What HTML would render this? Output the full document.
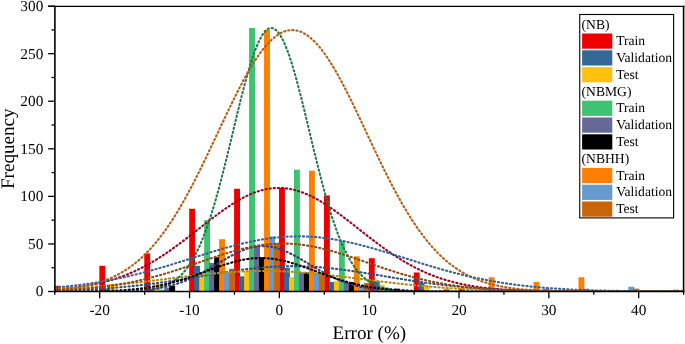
<!DOCTYPE html>
<html><head><meta charset="utf-8"><style>
html,body{margin:0;padding:0;background:#fff;}
svg{display:block;}
.t{font-family:"Liberation Serif",serif;font-size:15.3px;fill:#000;}
.at{font-family:"Liberation Serif",serif;font-size:19.1px;fill:#000;}
.lt{font-family:"Liberation Serif",serif;font-size:13.6px;fill:#000;}
text{text-rendering:geometricPrecision;}
svg{will-change:transform;}
</style></head><body>
<svg width="685" height="344" viewBox="0 0 685 344">
<defs><clipPath id="pc"><rect x="54.9" y="6.4" width="628.7" height="284.3"/></clipPath></defs>
<rect width="685" height="344" fill="#fff"/>
<rect x="54.80" y="285.79" width="5.55" height="5.71" fill="#EE0000"/>
<rect x="99.36" y="265.81" width="5.90" height="25.69" fill="#EE0000"/>
<rect x="144.28" y="253.45" width="5.90" height="38.05" fill="#EE0000"/>
<rect x="189.19" y="208.74" width="5.90" height="82.76" fill="#EE0000"/>
<rect x="234.11" y="188.76" width="5.90" height="102.74" fill="#EE0000"/>
<rect x="279.02" y="187.81" width="5.90" height="103.69" fill="#EE0000"/>
<rect x="323.94" y="195.42" width="5.90" height="96.08" fill="#EE0000"/>
<rect x="368.85" y="258.20" width="5.90" height="33.30" fill="#EE0000"/>
<rect x="413.77" y="272.47" width="5.90" height="19.03" fill="#EE0000"/>
<rect x="458.68" y="288.65" width="5.90" height="2.85" fill="#EE0000"/>
<rect x="104.35" y="288.65" width="5.90" height="2.85" fill="#346897"/>
<rect x="149.27" y="288.65" width="5.90" height="2.85" fill="#346897"/>
<rect x="194.18" y="265.81" width="5.90" height="25.69" fill="#346897"/>
<rect x="239.10" y="276.28" width="5.90" height="15.22" fill="#346897"/>
<rect x="284.01" y="267.72" width="5.90" height="23.78" fill="#346897"/>
<rect x="328.93" y="281.99" width="5.90" height="9.51" fill="#346897"/>
<rect x="373.84" y="281.04" width="5.90" height="10.46" fill="#346897"/>
<rect x="418.76" y="282.94" width="5.90" height="8.56" fill="#346897"/>
<rect x="64.43" y="286.74" width="5.90" height="4.76" fill="#FFC010"/>
<rect x="109.34" y="283.89" width="5.90" height="7.61" fill="#FFC010"/>
<rect x="154.26" y="283.89" width="5.90" height="7.61" fill="#FFC010"/>
<rect x="199.17" y="273.43" width="5.90" height="18.07" fill="#FFC010"/>
<rect x="244.09" y="271.52" width="5.90" height="19.98" fill="#FFC010"/>
<rect x="289.00" y="277.23" width="5.90" height="14.27" fill="#FFC010"/>
<rect x="333.92" y="281.04" width="5.90" height="10.46" fill="#FFC010"/>
<rect x="378.83" y="284.84" width="5.90" height="6.66" fill="#FFC010"/>
<rect x="423.75" y="285.79" width="5.90" height="5.71" fill="#FFC010"/>
<rect x="159.25" y="289.60" width="5.90" height="1.90" fill="#3EC373"/>
<rect x="204.16" y="220.15" width="5.90" height="71.35" fill="#3EC373"/>
<rect x="249.08" y="27.99" width="5.90" height="263.51" fill="#3EC373"/>
<rect x="293.99" y="169.73" width="5.90" height="121.77" fill="#3EC373"/>
<rect x="338.91" y="241.08" width="5.90" height="50.42" fill="#3EC373"/>
<rect x="383.82" y="287.69" width="5.90" height="3.81" fill="#3EC373"/>
<rect x="164.24" y="287.69" width="5.90" height="3.81" fill="#666897"/>
<rect x="209.15" y="262.96" width="5.90" height="28.54" fill="#666897"/>
<rect x="254.07" y="245.84" width="5.90" height="45.66" fill="#666897"/>
<rect x="298.98" y="272.47" width="5.90" height="19.03" fill="#666897"/>
<rect x="343.90" y="282.94" width="5.90" height="8.56" fill="#666897"/>
<rect x="388.81" y="290.55" width="5.90" height="0.95" fill="#666897"/>
<rect x="169.23" y="285.79" width="5.90" height="5.71" fill="#000000"/>
<rect x="214.14" y="257.25" width="5.90" height="34.25" fill="#000000"/>
<rect x="259.06" y="257.25" width="5.90" height="34.25" fill="#000000"/>
<rect x="303.97" y="272.47" width="5.90" height="19.03" fill="#000000"/>
<rect x="348.89" y="281.99" width="5.90" height="9.51" fill="#000000"/>
<rect x="393.80" y="288.65" width="5.90" height="2.85" fill="#000000"/>
<rect x="219.13" y="239.18" width="5.90" height="52.32" fill="#FF7F00"/>
<rect x="264.05" y="29.89" width="5.90" height="261.61" fill="#FF7F00"/>
<rect x="308.96" y="170.68" width="5.90" height="120.82" fill="#FF7F00"/>
<rect x="353.88" y="256.30" width="5.90" height="35.20" fill="#FF7F00"/>
<rect x="443.71" y="288.65" width="5.90" height="2.85" fill="#FF7F00"/>
<rect x="488.62" y="277.23" width="5.90" height="14.27" fill="#FF7F00"/>
<rect x="533.54" y="281.99" width="5.90" height="9.51" fill="#FF7F00"/>
<rect x="578.45" y="277.23" width="5.90" height="14.27" fill="#FF7F00"/>
<rect x="224.12" y="272.47" width="5.90" height="19.03" fill="#6699CC"/>
<rect x="269.04" y="236.32" width="5.90" height="55.18" fill="#6699CC"/>
<rect x="313.95" y="273.43" width="5.90" height="18.07" fill="#6699CC"/>
<rect x="358.87" y="285.79" width="5.90" height="5.71" fill="#6699CC"/>
<rect x="583.44" y="288.65" width="5.90" height="2.85" fill="#6699CC"/>
<rect x="628.36" y="286.74" width="5.90" height="4.76" fill="#6699CC"/>
<rect x="673.27" y="289.60" width="5.90" height="1.90" fill="#6699CC"/>
<rect x="229.11" y="268.67" width="5.90" height="22.83" fill="#C8640A"/>
<rect x="274.03" y="242.98" width="5.90" height="48.52" fill="#C8640A"/>
<rect x="318.94" y="273.43" width="5.90" height="18.07" fill="#C8640A"/>
<rect x="363.86" y="282.94" width="5.90" height="8.56" fill="#C8640A"/>
<rect x="543.52" y="288.65" width="5.90" height="2.85" fill="#C8640A"/>
<rect x="633.35" y="288.65" width="5.90" height="2.85" fill="#C8640A"/>
<polyline clip-path="url(#pc)" points="54.8,289.49 55.8,289.42 56.8,289.34 57.8,289.26 58.8,289.19 59.8,289.10 60.8,289.02 61.8,288.93 62.8,288.85 63.8,288.75 64.8,288.66 65.8,288.56 66.8,288.46 67.8,288.36 68.8,288.26 69.8,288.15 70.8,288.04 71.8,287.92 72.8,287.80 73.8,287.68 74.8,287.56 75.8,287.43 76.8,287.30 77.8,287.16 78.8,287.02 79.8,286.88 80.8,286.73 81.8,286.58 82.8,286.43 83.8,286.27 84.8,286.11 85.8,285.94 86.8,285.77 87.8,285.60 88.8,285.42 89.8,285.23 90.8,285.04 91.8,284.85 92.8,284.65 93.8,284.45 94.8,284.24 95.8,284.03 96.8,283.81 97.8,283.59 98.8,283.36 99.8,283.13 100.8,282.89 101.8,282.65 102.8,282.40 103.8,282.15 104.8,281.89 105.8,281.62 106.8,281.35 107.8,281.07 108.8,280.79 109.8,280.50 110.8,280.20 111.8,279.90 112.8,279.59 113.8,279.28 114.8,278.96 115.8,278.63 116.8,278.30 117.8,277.96 118.8,277.62 119.8,277.26 120.8,276.90 121.8,276.54 122.8,276.17 123.8,275.79 124.8,275.40 125.8,275.01 126.8,274.61 127.8,274.20 128.8,273.79 129.8,273.37 130.8,272.94 131.8,272.50 132.8,272.06 133.8,271.61 134.8,271.15 135.8,270.69 136.8,270.22 137.8,269.74 138.8,269.26 139.8,268.76 140.8,268.26 141.8,267.75 142.8,267.24 143.8,266.72 144.8,266.19 145.8,265.65 146.8,265.11 147.8,264.56 148.8,264.00 149.8,263.43 150.8,262.86 151.8,262.28 152.8,261.70 153.8,261.10 154.8,260.50 155.8,259.90 156.8,259.28 157.8,258.66 158.8,258.03 159.8,257.40 160.8,256.76 161.8,256.11 162.8,255.46 163.8,254.80 164.8,254.13 165.8,253.46 166.8,252.78 167.8,252.10 168.8,251.41 169.8,250.71 170.8,250.01 171.8,249.30 172.8,248.59 173.8,247.88 174.8,247.15 175.8,246.43 176.8,245.70 177.8,244.96 178.8,244.22 179.8,243.47 180.8,242.73 181.8,241.97 182.8,241.22 183.8,240.46 184.8,239.69 185.8,238.93 186.8,238.16 187.8,237.39 188.8,236.61 189.8,235.84 190.8,235.06 191.8,234.28 192.8,233.49 193.8,232.71 194.8,231.92 195.8,231.14 196.8,230.35 197.8,229.56 198.8,228.78 199.8,227.99 200.8,227.20 201.8,226.41 202.8,225.63 203.8,224.84 204.8,224.06 205.8,223.28 206.8,222.50 207.8,221.72 208.8,220.94 209.8,220.17 210.8,219.40 211.8,218.63 212.8,217.86 213.8,217.10 214.8,216.35 215.8,215.59 216.8,214.85 217.8,214.10 218.8,213.36 219.8,212.63 220.8,211.90 221.8,211.18 222.8,210.47 223.8,209.76 224.8,209.06 225.8,208.36 226.8,207.68 227.8,207.00 228.8,206.32 229.8,205.66 230.8,205.01 231.8,204.36 232.8,203.72 233.8,203.09 234.8,202.48 235.8,201.87 236.8,201.27 237.8,200.68 238.8,200.10 239.8,199.53 240.8,198.98 241.8,198.43 242.8,197.90 243.8,197.38 244.8,196.87 245.8,196.37 246.8,195.88 247.8,195.41 248.8,194.95 249.8,194.51 250.8,194.07 251.8,193.65 252.8,193.25 253.8,192.85 254.8,192.48 255.8,192.11 256.8,191.76 257.8,191.43 258.8,191.11 259.8,190.80 260.8,190.51 261.8,190.23 262.8,189.97 263.8,189.73 264.8,189.50 265.8,189.28 266.8,189.08 267.8,188.90 268.8,188.73 269.8,188.58 270.8,188.45 271.8,188.33 272.8,188.23 273.8,188.14 274.8,188.07 275.8,188.01 276.8,187.98 277.8,187.95 278.8,187.95 279.8,187.96 280.8,187.99 281.8,188.03 282.8,188.09 283.8,188.17 284.8,188.26 285.8,188.37 286.8,188.49 287.8,188.63 288.8,188.79 289.8,188.96 290.8,189.15 291.8,189.35 292.8,189.57 293.8,189.80 294.8,190.05 295.8,190.32 296.8,190.60 297.8,190.90 298.8,191.21 299.8,191.53 300.8,191.87 301.8,192.23 302.8,192.60 303.8,192.98 304.8,193.38 305.8,193.79 306.8,194.21 307.8,194.65 308.8,195.10 309.8,195.56 310.8,196.04 311.8,196.53 312.8,197.03 313.8,197.54 314.8,198.07 315.8,198.61 316.8,199.16 317.8,199.72 318.8,200.29 319.8,200.87 320.8,201.46 321.8,202.06 322.8,202.67 323.8,203.30 324.8,203.93 325.8,204.57 326.8,205.22 327.8,205.87 328.8,206.54 329.8,207.22 330.8,207.90 331.8,208.59 332.8,209.28 333.8,209.99 334.8,210.70 335.8,211.42 336.8,212.14 337.8,212.87 338.8,213.60 339.8,214.34 340.8,215.09 341.8,215.84 342.8,216.59 343.8,217.35 344.8,218.11 345.8,218.88 346.8,219.64 347.8,220.42 348.8,221.19 349.8,221.97 350.8,222.75 351.8,223.53 352.8,224.31 353.8,225.10 354.8,225.88 355.8,226.67 356.8,227.46 357.8,228.24 358.8,229.03 359.8,229.82 360.8,230.61 361.8,231.39 362.8,232.18 363.8,232.96 364.8,233.75 365.8,234.53 366.8,235.31 367.8,236.09 368.8,236.86 369.8,237.64 370.8,238.41 371.8,239.18 372.8,239.94 373.8,240.70 374.8,241.46 375.8,242.22 376.8,242.97 377.8,243.72 378.8,244.46 379.8,245.20 380.8,245.93 381.8,246.66 382.8,247.39 383.8,248.11 384.8,248.82 385.8,249.53 386.8,250.24 387.8,250.94 388.8,251.63 389.8,252.32 390.8,253.00 391.8,253.68 392.8,254.35 393.8,255.01 394.8,255.67 395.8,256.32 396.8,256.97 397.8,257.60 398.8,258.24 399.8,258.86 400.8,259.48 401.8,260.09 402.8,260.70 403.8,261.30 404.8,261.89 405.8,262.47 406.8,263.05 407.8,263.62 408.8,264.18 409.8,264.74 410.8,265.29 411.8,265.83 412.8,266.36 413.8,266.89 414.8,267.41 415.8,267.92 416.8,268.42 417.8,268.92 418.8,269.41 419.8,269.90 420.8,270.37 421.8,270.84 422.8,271.30 423.8,271.76 424.8,272.20 425.8,272.64 426.8,273.08 427.8,273.50 428.8,273.92 429.8,274.33 430.8,274.74 431.8,275.14 432.8,275.53 433.8,275.91 434.8,276.29 435.8,276.66 436.8,277.02 437.8,277.38 438.8,277.73 439.8,278.07 440.8,278.41 441.8,278.74 442.8,279.06 443.8,279.38 444.8,279.69 445.8,280.00 446.8,280.30 447.8,280.59 448.8,280.88 449.8,281.16 450.8,281.44 451.8,281.71 452.8,281.97 453.8,282.23 454.8,282.48 455.8,282.73 456.8,282.97 457.8,283.21 458.8,283.44 459.8,283.66 460.8,283.88 461.8,284.10 462.8,284.31 463.8,284.52 464.8,284.72 465.8,284.91 466.8,285.11 467.8,285.29 468.8,285.47 469.8,285.65 470.8,285.83 471.8,286.00 472.8,286.16 473.8,286.32 474.8,286.48 475.8,286.63 476.8,286.78 477.8,286.93 478.8,287.07 479.8,287.20 480.8,287.34 481.8,287.47 482.8,287.60 483.8,287.72 484.8,287.84 485.8,287.96 486.8,288.07 487.8,288.18 488.8,288.29 489.8,288.39 490.8,288.50 491.8,288.60 492.8,288.69 493.8,288.78 494.8,288.87 495.8,288.96 496.8,289.05 497.8,289.13 498.8,289.21 499.8,289.29 500.8,289.37 501.8,289.44 502.8,289.51 503.8,289.58 504.8,289.65 505.8,289.71 506.8,289.77 507.8,289.84 508.8,289.89 509.8,289.95 510.8,290.01 511.8,290.06 512.8,290.11 513.8,290.16 514.8,290.21 515.8,290.26 516.8,290.30 517.8,290.35 518.8,290.39 519.8,290.43 520.8,290.47 521.8,290.51 522.8,290.55 523.8,290.58 524.8,290.62 525.8,290.65 526.8,290.68 527.8,290.72 528.8,290.75 529.8,290.77 530.8,290.80 531.8,290.83 532.8,290.86 533.8,290.88 534.8,290.91 535.8,290.93 536.8,290.95 537.8,290.97 538.8,291.00 539.8,291.02 540.8,291.03 541.8,291.05 542.8,291.07 543.8,291.09 544.8,291.11 545.8,291.12 546.8,291.14 547.8,291.15 548.8,291.17 549.8,291.18 550.8,291.19 551.8,291.21 552.8,291.22 553.8,291.23 554.8,291.24 555.8,291.25 556.8,291.26 557.8,291.27 558.8,291.28 559.8,291.29 560.8,291.30 561.8,291.31 562.8,291.32 563.8,291.33 564.8,291.33 565.8,291.34 566.8,291.35 567.8,291.36 568.8,291.36 569.8,291.37 570.8,291.37 571.8,291.38 572.8,291.39 573.8,291.39 574.8,291.40 575.8,291.40 576.8,291.40 577.8,291.41 578.8,291.41 579.8,291.42 580.8,291.42 581.8,291.42 582.8,291.43 583.8,291.43 584.8,291.43 585.8,291.44 586.8,291.44 587.8,291.44 588.8,291.45 589.8,291.45 590.8,291.45 591.8,291.45 592.8,291.46 593.8,291.46 594.8,291.46 595.8,291.46 596.8,291.46 597.8,291.47 598.8,291.47 599.8,291.47 600.8,291.47 601.8,291.47 602.8,291.47 603.8,291.47 604.8,291.48 605.8,291.48 606.8,291.48 607.8,291.48 608.8,291.48 609.8,291.48 610.8,291.48 611.8,291.48 612.8,291.48 613.8,291.48 614.8,291.49 615.8,291.49 616.8,291.49 617.8,291.49 618.8,291.49 619.8,291.49 620.8,291.49 621.8,291.49 622.8,291.49 623.8,291.49 624.8,291.49 625.8,291.49 626.8,291.49 627.8,291.49 628.8,291.49 629.8,291.49 630.8,291.49 631.8,291.49 632.8,291.49 633.8,291.49 634.8,291.50 635.8,291.50 636.8,291.50 637.8,291.50 638.8,291.50 639.8,291.50 640.8,291.50 641.8,291.50 642.8,291.50 643.8,291.50 644.8,291.50 645.8,291.50 646.8,291.50 647.8,291.50 648.8,291.50 649.8,291.50 650.8,291.50 651.8,291.50 652.8,291.50 653.8,291.50 654.8,291.50 655.8,291.50 656.8,291.50 657.8,291.50 658.8,291.50 659.8,291.50 660.8,291.50 661.8,291.50 662.8,291.50 663.8,291.50 664.8,291.50 665.8,291.50 666.8,291.50 667.8,291.50 668.8,291.50 669.8,291.50 670.8,291.50 671.8,291.50 672.8,291.50 673.8,291.50 674.8,291.50 675.8,291.50 676.8,291.50 677.8,291.50 678.8,291.50 679.8,291.50 680.8,291.50 681.8,291.50 682.8,291.50" fill="none" stroke="#A3001E" stroke-width="2.1" stroke-linecap="round" stroke-dasharray="1.2 2.9"/>
<polyline clip-path="url(#pc)" points="54.8,290.65 55.8,290.62 56.8,290.60 57.8,290.57 58.8,290.54 59.8,290.52 60.8,290.49 61.8,290.46 62.8,290.43 63.8,290.40 64.8,290.37 65.8,290.34 66.8,290.31 67.8,290.28 68.8,290.24 69.8,290.21 70.8,290.17 71.8,290.14 72.8,290.10 73.8,290.06 74.8,290.03 75.8,289.99 76.8,289.95 77.8,289.91 78.8,289.86 79.8,289.82 80.8,289.78 81.8,289.73 82.8,289.69 83.8,289.64 84.8,289.60 85.8,289.55 86.8,289.50 87.8,289.45 88.8,289.40 89.8,289.35 90.8,289.29 91.8,289.24 92.8,289.19 93.8,289.13 94.8,289.07 95.8,289.02 96.8,288.96 97.8,288.90 98.8,288.83 99.8,288.77 100.8,288.71 101.8,288.64 102.8,288.58 103.8,288.51 104.8,288.44 105.8,288.37 106.8,288.30 107.8,288.23 108.8,288.16 109.8,288.08 110.8,288.01 111.8,287.93 112.8,287.85 113.8,287.77 114.8,287.69 115.8,287.61 116.8,287.53 117.8,287.44 118.8,287.36 119.8,287.27 120.8,287.18 121.8,287.09 122.8,287.00 123.8,286.91 124.8,286.82 125.8,286.72 126.8,286.63 127.8,286.53 128.8,286.43 129.8,286.33 130.8,286.23 131.8,286.12 132.8,286.02 133.8,285.92 134.8,285.81 135.8,285.70 136.8,285.59 137.8,285.48 138.8,285.37 139.8,285.25 140.8,285.14 141.8,285.02 142.8,284.90 143.8,284.78 144.8,284.66 145.8,284.54 146.8,284.42 147.8,284.29 148.8,284.17 149.8,284.04 150.8,283.91 151.8,283.78 152.8,283.65 153.8,283.52 154.8,283.39 155.8,283.25 156.8,283.12 157.8,282.98 158.8,282.84 159.8,282.70 160.8,282.56 161.8,282.42 162.8,282.28 163.8,282.13 164.8,281.99 165.8,281.84 166.8,281.69 167.8,281.55 168.8,281.40 169.8,281.25 170.8,281.09 171.8,280.94 172.8,280.79 173.8,280.63 174.8,280.48 175.8,280.32 176.8,280.17 177.8,280.01 178.8,279.85 179.8,279.69 180.8,279.53 181.8,279.37 182.8,279.21 183.8,279.04 184.8,278.88 185.8,278.72 186.8,278.55 187.8,278.39 188.8,278.23 189.8,278.06 190.8,277.89 191.8,277.73 192.8,277.56 193.8,277.39 194.8,277.23 195.8,277.06 196.8,276.89 197.8,276.72 198.8,276.56 199.8,276.39 200.8,276.22 201.8,276.05 202.8,275.88 203.8,275.71 204.8,275.55 205.8,275.38 206.8,275.21 207.8,275.04 208.8,274.88 209.8,274.71 210.8,274.54 211.8,274.38 212.8,274.21 213.8,274.05 214.8,273.88 215.8,273.72 216.8,273.55 217.8,273.39 218.8,273.23 219.8,273.07 220.8,272.91 221.8,272.75 222.8,272.59 223.8,272.43 224.8,272.27 225.8,272.12 226.8,271.96 227.8,271.81 228.8,271.66 229.8,271.50 230.8,271.35 231.8,271.21 232.8,271.06 233.8,270.91 234.8,270.77 235.8,270.62 236.8,270.48 237.8,270.34 238.8,270.20 239.8,270.07 240.8,269.93 241.8,269.80 242.8,269.67 243.8,269.54 244.8,269.41 245.8,269.29 246.8,269.16 247.8,269.04 248.8,268.92 249.8,268.80 250.8,268.69 251.8,268.57 252.8,268.46 253.8,268.35 254.8,268.25 255.8,268.14 256.8,268.04 257.8,267.94 258.8,267.84 259.8,267.75 260.8,267.66 261.8,267.57 262.8,267.48 263.8,267.39 264.8,267.31 265.8,267.23 266.8,267.15 267.8,267.08 268.8,267.01 269.8,266.94 270.8,266.87 271.8,266.81 272.8,266.75 273.8,266.69 274.8,266.64 275.8,266.59 276.8,266.54 277.8,266.49 278.8,266.45 279.8,266.41 280.8,266.37 281.8,266.34 282.8,266.30 283.8,266.28 284.8,266.25 285.8,266.23 286.8,266.21 287.8,266.19 288.8,266.18 289.8,266.17 290.8,266.16 291.8,266.16 292.8,266.16 293.8,266.16 294.8,266.16 295.8,266.17 296.8,266.18 297.8,266.20 298.8,266.21 299.8,266.23 300.8,266.26 301.8,266.28 302.8,266.31 303.8,266.34 304.8,266.38 305.8,266.42 306.8,266.46 307.8,266.50 308.8,266.55 309.8,266.60 310.8,266.65 311.8,266.70 312.8,266.76 313.8,266.82 314.8,266.89 315.8,266.95 316.8,267.02 317.8,267.09 318.8,267.17 319.8,267.25 320.8,267.33 321.8,267.41 322.8,267.49 323.8,267.58 324.8,267.67 325.8,267.77 326.8,267.86 327.8,267.96 328.8,268.06 329.8,268.16 330.8,268.27 331.8,268.37 332.8,268.48 333.8,268.59 334.8,268.71 335.8,268.82 336.8,268.94 337.8,269.06 338.8,269.18 339.8,269.31 340.8,269.44 341.8,269.56 342.8,269.69 343.8,269.83 344.8,269.96 345.8,270.09 346.8,270.23 347.8,270.37 348.8,270.51 349.8,270.65 350.8,270.79 351.8,270.94 352.8,271.09 353.8,271.23 354.8,271.38 355.8,271.53 356.8,271.68 357.8,271.84 358.8,271.99 359.8,272.15 360.8,272.30 361.8,272.46 362.8,272.62 363.8,272.78 364.8,272.94 365.8,273.10 366.8,273.26 367.8,273.42 368.8,273.58 369.8,273.75 370.8,273.91 371.8,274.08 372.8,274.24 373.8,274.41 374.8,274.57 375.8,274.74 376.8,274.91 377.8,275.07 378.8,275.24 379.8,275.41 380.8,275.58 381.8,275.75 382.8,275.91 383.8,276.08 384.8,276.25 385.8,276.42 386.8,276.59 387.8,276.76 388.8,276.92 389.8,277.09 390.8,277.26 391.8,277.43 392.8,277.59 393.8,277.76 394.8,277.93 395.8,278.09 396.8,278.26 397.8,278.42 398.8,278.59 399.8,278.75 400.8,278.91 401.8,279.08 402.8,279.24 403.8,279.40 404.8,279.56 405.8,279.72 406.8,279.88 407.8,280.04 408.8,280.19 409.8,280.35 410.8,280.51 411.8,280.66 412.8,280.82 413.8,280.97 414.8,281.12 415.8,281.27 416.8,281.42 417.8,281.57 418.8,281.72 419.8,281.87 420.8,282.01 421.8,282.16 422.8,282.30 423.8,282.45 424.8,282.59 425.8,282.73 426.8,282.87 427.8,283.01 428.8,283.14 429.8,283.28 430.8,283.41 431.8,283.55 432.8,283.68 433.8,283.81 434.8,283.94 435.8,284.07 436.8,284.19 437.8,284.32 438.8,284.44 439.8,284.57 440.8,284.69 441.8,284.81 442.8,284.93 443.8,285.04 444.8,285.16 445.8,285.27 446.8,285.39 447.8,285.50 448.8,285.61 449.8,285.72 450.8,285.83 451.8,285.94 452.8,286.04 453.8,286.14 454.8,286.25 455.8,286.35 456.8,286.45 457.8,286.55 458.8,286.64 459.8,286.74 460.8,286.83 461.8,286.93 462.8,287.02 463.8,287.11 464.8,287.20 465.8,287.29 466.8,287.37 467.8,287.46 468.8,287.54 469.8,287.63 470.8,287.71 471.8,287.79 472.8,287.87 473.8,287.95 474.8,288.02 475.8,288.10 476.8,288.17 477.8,288.24 478.8,288.32 479.8,288.39 480.8,288.46 481.8,288.52 482.8,288.59 483.8,288.66 484.8,288.72 485.8,288.78 486.8,288.85 487.8,288.91 488.8,288.97 489.8,289.03 490.8,289.08 491.8,289.14 492.8,289.20 493.8,289.25 494.8,289.30 495.8,289.36 496.8,289.41 497.8,289.46 498.8,289.51 499.8,289.56 500.8,289.61 501.8,289.65 502.8,289.70 503.8,289.74 504.8,289.79 505.8,289.83 506.8,289.87 507.8,289.91 508.8,289.95 509.8,289.99 510.8,290.03 511.8,290.07 512.8,290.11 513.8,290.14 514.8,290.18 515.8,290.21 516.8,290.25 517.8,290.28 518.8,290.31 519.8,290.35 520.8,290.38 521.8,290.41 522.8,290.44 523.8,290.47 524.8,290.49 525.8,290.52 526.8,290.55 527.8,290.57 528.8,290.60 529.8,290.63 530.8,290.65 531.8,290.67 532.8,290.70 533.8,290.72 534.8,290.74 535.8,290.76 536.8,290.79 537.8,290.81 538.8,290.83 539.8,290.85 540.8,290.87 541.8,290.88 542.8,290.90 543.8,290.92 544.8,290.94 545.8,290.95 546.8,290.97 547.8,290.99 548.8,291.00 549.8,291.02 550.8,291.03 551.8,291.05 552.8,291.06 553.8,291.07 554.8,291.09 555.8,291.10 556.8,291.11 557.8,291.12 558.8,291.14 559.8,291.15 560.8,291.16 561.8,291.17 562.8,291.18 563.8,291.19 564.8,291.20 565.8,291.21 566.8,291.22 567.8,291.23 568.8,291.24 569.8,291.24 570.8,291.25 571.8,291.26 572.8,291.27 573.8,291.28 574.8,291.28 575.8,291.29 576.8,291.30 577.8,291.31 578.8,291.31 579.8,291.32 580.8,291.32 581.8,291.33 582.8,291.34 583.8,291.34 584.8,291.35 585.8,291.35 586.8,291.36 587.8,291.36 588.8,291.37 589.8,291.37 590.8,291.38 591.8,291.38 592.8,291.38 593.8,291.39 594.8,291.39 595.8,291.40 596.8,291.40 597.8,291.40 598.8,291.41 599.8,291.41 600.8,291.41 601.8,291.42 602.8,291.42 603.8,291.42 604.8,291.43 605.8,291.43 606.8,291.43 607.8,291.43 608.8,291.44 609.8,291.44 610.8,291.44 611.8,291.44 612.8,291.45 613.8,291.45 614.8,291.45 615.8,291.45 616.8,291.45 617.8,291.45 618.8,291.46 619.8,291.46 620.8,291.46 621.8,291.46 622.8,291.46 623.8,291.46 624.8,291.47 625.8,291.47 626.8,291.47 627.8,291.47 628.8,291.47 629.8,291.47 630.8,291.47 631.8,291.47 632.8,291.48 633.8,291.48 634.8,291.48 635.8,291.48 636.8,291.48 637.8,291.48 638.8,291.48 639.8,291.48 640.8,291.48 641.8,291.48 642.8,291.48 643.8,291.48 644.8,291.48 645.8,291.49 646.8,291.49 647.8,291.49 648.8,291.49 649.8,291.49 650.8,291.49 651.8,291.49 652.8,291.49 653.8,291.49 654.8,291.49 655.8,291.49 656.8,291.49 657.8,291.49 658.8,291.49 659.8,291.49 660.8,291.49 661.8,291.49 662.8,291.49 663.8,291.49 664.8,291.49 665.8,291.49 666.8,291.49 667.8,291.49 668.8,291.49 669.8,291.49 670.8,291.50 671.8,291.50 672.8,291.50 673.8,291.50 674.8,291.50 675.8,291.50 676.8,291.50 677.8,291.50 678.8,291.50 679.8,291.50 680.8,291.50 681.8,291.50 682.8,291.50" fill="none" stroke="#2C5288" stroke-width="2.1" stroke-linecap="round" stroke-dasharray="1.2 2.9"/>
<polyline clip-path="url(#pc)" points="54.8,289.36 55.8,289.32 56.8,289.27 57.8,289.22 58.8,289.17 59.8,289.12 60.8,289.07 61.8,289.02 62.8,288.97 63.8,288.92 64.8,288.86 65.8,288.81 66.8,288.75 67.8,288.69 68.8,288.64 69.8,288.58 70.8,288.52 71.8,288.46 72.8,288.40 73.8,288.34 74.8,288.27 75.8,288.21 76.8,288.14 77.8,288.08 78.8,288.01 79.8,287.94 80.8,287.88 81.8,287.81 82.8,287.74 83.8,287.67 84.8,287.59 85.8,287.52 86.8,287.45 87.8,287.37 88.8,287.30 89.8,287.22 90.8,287.14 91.8,287.06 92.8,286.98 93.8,286.90 94.8,286.82 95.8,286.74 96.8,286.66 97.8,286.57 98.8,286.49 99.8,286.40 100.8,286.31 101.8,286.22 102.8,286.13 103.8,286.04 104.8,285.95 105.8,285.86 106.8,285.77 107.8,285.68 108.8,285.58 109.8,285.49 110.8,285.39 111.8,285.29 112.8,285.19 113.8,285.09 114.8,284.99 115.8,284.89 116.8,284.79 117.8,284.69 118.8,284.58 119.8,284.48 120.8,284.37 121.8,284.27 122.8,284.16 123.8,284.05 124.8,283.95 125.8,283.84 126.8,283.73 127.8,283.62 128.8,283.50 129.8,283.39 130.8,283.28 131.8,283.17 132.8,283.05 133.8,282.94 134.8,282.82 135.8,282.70 136.8,282.59 137.8,282.47 138.8,282.35 139.8,282.23 140.8,282.11 141.8,281.99 142.8,281.87 143.8,281.75 144.8,281.63 145.8,281.51 146.8,281.38 147.8,281.26 148.8,281.14 149.8,281.02 150.8,280.89 151.8,280.77 152.8,280.64 153.8,280.52 154.8,280.39 155.8,280.27 156.8,280.14 157.8,280.01 158.8,279.89 159.8,279.76 160.8,279.64 161.8,279.51 162.8,279.38 163.8,279.25 164.8,279.13 165.8,279.00 166.8,278.87 167.8,278.75 168.8,278.62 169.8,278.49 170.8,278.37 171.8,278.24 172.8,278.11 173.8,277.99 174.8,277.86 175.8,277.74 176.8,277.61 177.8,277.49 178.8,277.36 179.8,277.24 180.8,277.11 181.8,276.99 182.8,276.87 183.8,276.75 184.8,276.62 185.8,276.50 186.8,276.38 187.8,276.26 188.8,276.14 189.8,276.02 190.8,275.91 191.8,275.79 192.8,275.67 193.8,275.56 194.8,275.44 195.8,275.33 196.8,275.21 197.8,275.10 198.8,274.99 199.8,274.88 200.8,274.77 201.8,274.66 202.8,274.55 203.8,274.45 204.8,274.34 205.8,274.24 206.8,274.13 207.8,274.03 208.8,273.93 209.8,273.83 210.8,273.74 211.8,273.64 212.8,273.54 213.8,273.45 214.8,273.36 215.8,273.27 216.8,273.18 217.8,273.09 218.8,273.00 219.8,272.92 220.8,272.83 221.8,272.75 222.8,272.67 223.8,272.59 224.8,272.51 225.8,272.44 226.8,272.37 227.8,272.29 228.8,272.22 229.8,272.15 230.8,272.09 231.8,272.02 232.8,271.96 233.8,271.90 234.8,271.84 235.8,271.78 236.8,271.73 237.8,271.67 238.8,271.62 239.8,271.57 240.8,271.52 241.8,271.48 242.8,271.43 243.8,271.39 244.8,271.35 245.8,271.31 246.8,271.27 247.8,271.24 248.8,271.21 249.8,271.18 250.8,271.15 251.8,271.13 252.8,271.10 253.8,271.08 254.8,271.06 255.8,271.04 256.8,271.03 257.8,271.01 258.8,271.00 259.8,270.99 260.8,270.99 261.8,270.98 262.8,270.98 263.8,270.98 264.8,270.98 265.8,270.99 266.8,270.99 267.8,271.00 268.8,271.01 269.8,271.02 270.8,271.04 271.8,271.05 272.8,271.07 273.8,271.09 274.8,271.12 275.8,271.14 276.8,271.17 277.8,271.20 278.8,271.23 279.8,271.26 280.8,271.30 281.8,271.34 282.8,271.37 283.8,271.42 284.8,271.46 285.8,271.51 286.8,271.55 287.8,271.60 288.8,271.65 289.8,271.71 290.8,271.76 291.8,271.82 292.8,271.88 293.8,271.94 294.8,272.00 295.8,272.06 296.8,272.13 297.8,272.20 298.8,272.27 299.8,272.34 300.8,272.41 301.8,272.49 302.8,272.56 303.8,272.64 304.8,272.72 305.8,272.80 306.8,272.89 307.8,272.97 308.8,273.06 309.8,273.15 310.8,273.23 311.8,273.33 312.8,273.42 313.8,273.51 314.8,273.61 315.8,273.70 316.8,273.80 317.8,273.90 318.8,274.00 319.8,274.10 320.8,274.20 321.8,274.31 322.8,274.41 323.8,274.52 324.8,274.62 325.8,274.73 326.8,274.84 327.8,274.95 328.8,275.06 329.8,275.17 330.8,275.29 331.8,275.40 332.8,275.51 333.8,275.63 334.8,275.75 335.8,275.86 336.8,275.98 337.8,276.10 338.8,276.22 339.8,276.34 340.8,276.46 341.8,276.58 342.8,276.70 343.8,276.83 344.8,276.95 345.8,277.07 346.8,277.20 347.8,277.32 348.8,277.44 349.8,277.57 350.8,277.69 351.8,277.82 352.8,277.94 353.8,278.07 354.8,278.20 355.8,278.32 356.8,278.45 357.8,278.58 358.8,278.70 359.8,278.83 360.8,278.96 361.8,279.08 362.8,279.21 363.8,279.34 364.8,279.46 365.8,279.59 366.8,279.72 367.8,279.84 368.8,279.97 369.8,280.10 370.8,280.22 371.8,280.35 372.8,280.47 373.8,280.60 374.8,280.72 375.8,280.85 376.8,280.97 377.8,281.10 378.8,281.22 379.8,281.34 380.8,281.46 381.8,281.59 382.8,281.71 383.8,281.83 384.8,281.95 385.8,282.07 386.8,282.19 387.8,282.31 388.8,282.43 389.8,282.55 390.8,282.66 391.8,282.78 392.8,282.90 393.8,283.01 394.8,283.13 395.8,283.24 396.8,283.35 397.8,283.46 398.8,283.58 399.8,283.69 400.8,283.80 401.8,283.91 402.8,284.02 403.8,284.12 404.8,284.23 405.8,284.34 406.8,284.44 407.8,284.55 408.8,284.65 409.8,284.75 410.8,284.86 411.8,284.96 412.8,285.06 413.8,285.16 414.8,285.26 415.8,285.35 416.8,285.45 417.8,285.55 418.8,285.64 419.8,285.74 420.8,285.83 421.8,285.92 422.8,286.01 423.8,286.10 424.8,286.19 425.8,286.28 426.8,286.37 427.8,286.46 428.8,286.54 429.8,286.63 430.8,286.71 431.8,286.79 432.8,286.87 433.8,286.96 434.8,287.04 435.8,287.11 436.8,287.19 437.8,287.27 438.8,287.35 439.8,287.42 440.8,287.50 441.8,287.57 442.8,287.64 443.8,287.71 444.8,287.78 445.8,287.85 446.8,287.92 447.8,287.99 448.8,288.06 449.8,288.12 450.8,288.19 451.8,288.25 452.8,288.31 453.8,288.38 454.8,288.44 455.8,288.50 456.8,288.56 457.8,288.62 458.8,288.67 459.8,288.73 460.8,288.79 461.8,288.84 462.8,288.90 463.8,288.95 464.8,289.00 465.8,289.05 466.8,289.11 467.8,289.16 468.8,289.20 469.8,289.25 470.8,289.30 471.8,289.35 472.8,289.39 473.8,289.44 474.8,289.48 475.8,289.53 476.8,289.57 477.8,289.61 478.8,289.66 479.8,289.70 480.8,289.74 481.8,289.78 482.8,289.81 483.8,289.85 484.8,289.89 485.8,289.93 486.8,289.96 487.8,290.00 488.8,290.03 489.8,290.07 490.8,290.10 491.8,290.13 492.8,290.17 493.8,290.20 494.8,290.23 495.8,290.26 496.8,290.29 497.8,290.32 498.8,290.35 499.8,290.37 500.8,290.40 501.8,290.43 502.8,290.45 503.8,290.48 504.8,290.50 505.8,290.53 506.8,290.55 507.8,290.58 508.8,290.60 509.8,290.62 510.8,290.65 511.8,290.67 512.8,290.69 513.8,290.71 514.8,290.73 515.8,290.75 516.8,290.77 517.8,290.79 518.8,290.81 519.8,290.82 520.8,290.84 521.8,290.86 522.8,290.88 523.8,290.89 524.8,290.91 525.8,290.93 526.8,290.94 527.8,290.96 528.8,290.97 529.8,290.99 530.8,291.00 531.8,291.01 532.8,291.03 533.8,291.04 534.8,291.05 535.8,291.06 536.8,291.08 537.8,291.09 538.8,291.10 539.8,291.11 540.8,291.12 541.8,291.13 542.8,291.14 543.8,291.15 544.8,291.16 545.8,291.17 546.8,291.18 547.8,291.19 548.8,291.20 549.8,291.21 550.8,291.22 551.8,291.23 552.8,291.24 553.8,291.24 554.8,291.25 555.8,291.26 556.8,291.27 557.8,291.27 558.8,291.28 559.8,291.29 560.8,291.29 561.8,291.30 562.8,291.30 563.8,291.31 564.8,291.32 565.8,291.32 566.8,291.33 567.8,291.33 568.8,291.34 569.8,291.34 570.8,291.35 571.8,291.35 572.8,291.36 573.8,291.36 574.8,291.37 575.8,291.37 576.8,291.38 577.8,291.38 578.8,291.38 579.8,291.39 580.8,291.39 581.8,291.39 582.8,291.40 583.8,291.40 584.8,291.40 585.8,291.41 586.8,291.41 587.8,291.41 588.8,291.42 589.8,291.42 590.8,291.42 591.8,291.42 592.8,291.43 593.8,291.43 594.8,291.43 595.8,291.43 596.8,291.44 597.8,291.44 598.8,291.44 599.8,291.44 600.8,291.44 601.8,291.45 602.8,291.45 603.8,291.45 604.8,291.45 605.8,291.45 606.8,291.46 607.8,291.46 608.8,291.46 609.8,291.46 610.8,291.46 611.8,291.46 612.8,291.46 613.8,291.47 614.8,291.47 615.8,291.47 616.8,291.47 617.8,291.47 618.8,291.47 619.8,291.47 620.8,291.47 621.8,291.47 622.8,291.47 623.8,291.48 624.8,291.48 625.8,291.48 626.8,291.48 627.8,291.48 628.8,291.48 629.8,291.48 630.8,291.48 631.8,291.48 632.8,291.48 633.8,291.48 634.8,291.48 635.8,291.48 636.8,291.49 637.8,291.49 638.8,291.49 639.8,291.49 640.8,291.49 641.8,291.49 642.8,291.49 643.8,291.49 644.8,291.49 645.8,291.49 646.8,291.49 647.8,291.49 648.8,291.49 649.8,291.49 650.8,291.49 651.8,291.49 652.8,291.49 653.8,291.49 654.8,291.49 655.8,291.49 656.8,291.49 657.8,291.49 658.8,291.49 659.8,291.49 660.8,291.49 661.8,291.49 662.8,291.49 663.8,291.50 664.8,291.50 665.8,291.50 666.8,291.50 667.8,291.50 668.8,291.50 669.8,291.50 670.8,291.50 671.8,291.50 672.8,291.50 673.8,291.50 674.8,291.50 675.8,291.50 676.8,291.50 677.8,291.50 678.8,291.50 679.8,291.50 680.8,291.50 681.8,291.50 682.8,291.50" fill="none" stroke="#B88C14" stroke-width="2.1" stroke-linecap="round" stroke-dasharray="1.2 2.9"/>
<polyline clip-path="url(#pc)" points="54.8,291.50 55.8,291.50 56.8,291.50 57.8,291.50 58.8,291.50 59.8,291.50 60.8,291.50 61.8,291.50 62.8,291.50 63.8,291.50 64.8,291.50 65.8,291.50 66.8,291.50 67.8,291.50 68.8,291.50 69.8,291.50 70.8,291.50 71.8,291.50 72.8,291.50 73.8,291.50 74.8,291.50 75.8,291.50 76.8,291.50 77.8,291.50 78.8,291.50 79.8,291.50 80.8,291.50 81.8,291.50 82.8,291.50 83.8,291.50 84.8,291.50 85.8,291.50 86.8,291.50 87.8,291.50 88.8,291.50 89.8,291.50 90.8,291.50 91.8,291.50 92.8,291.50 93.8,291.49 94.8,291.49 95.8,291.49 96.8,291.49 97.8,291.49 98.8,291.49 99.8,291.49 100.8,291.49 101.8,291.49 102.8,291.48 103.8,291.48 104.8,291.48 105.8,291.48 106.8,291.47 107.8,291.47 108.8,291.47 109.8,291.46 110.8,291.46 111.8,291.46 112.8,291.45 113.8,291.44 114.8,291.44 115.8,291.43 116.8,291.42 117.8,291.42 118.8,291.41 119.8,291.40 120.8,291.38 121.8,291.37 122.8,291.36 123.8,291.34 124.8,291.33 125.8,291.31 126.8,291.29 127.8,291.27 128.8,291.24 129.8,291.22 130.8,291.19 131.8,291.16 132.8,291.12 133.8,291.09 134.8,291.04 135.8,291.00 136.8,290.95 137.8,290.90 138.8,290.84 139.8,290.78 140.8,290.71 141.8,290.64 142.8,290.56 143.8,290.48 144.8,290.38 145.8,290.28 146.8,290.17 147.8,290.06 148.8,289.93 149.8,289.79 150.8,289.65 151.8,289.49 152.8,289.32 153.8,289.13 154.8,288.94 155.8,288.73 156.8,288.50 157.8,288.26 158.8,288.00 159.8,287.72 160.8,287.42 161.8,287.10 162.8,286.76 163.8,286.40 164.8,286.01 165.8,285.60 166.8,285.16 167.8,284.69 168.8,284.20 169.8,283.67 170.8,283.11 171.8,282.52 172.8,281.89 173.8,281.22 174.8,280.52 175.8,279.77 176.8,278.99 177.8,278.16 178.8,277.28 179.8,276.36 180.8,275.39 181.8,274.37 182.8,273.30 183.8,272.17 184.8,270.99 185.8,269.74 186.8,268.44 187.8,267.08 188.8,265.66 189.8,264.17 190.8,262.62 191.8,260.99 192.8,259.30 193.8,257.54 194.8,255.71 195.8,253.80 196.8,251.82 197.8,249.76 198.8,247.63 199.8,245.42 200.8,243.13 201.8,240.76 202.8,238.32 203.8,235.79 204.8,233.18 205.8,230.49 206.8,227.72 207.8,224.88 208.8,221.95 209.8,218.94 210.8,215.86 211.8,212.69 212.8,209.45 213.8,206.14 214.8,202.75 215.8,199.30 216.8,195.77 217.8,192.17 218.8,188.51 219.8,184.79 220.8,181.01 221.8,177.18 222.8,173.29 223.8,169.35 224.8,165.37 225.8,161.35 226.8,157.29 227.8,153.20 228.8,149.08 229.8,144.94 230.8,140.78 231.8,136.61 232.8,132.44 233.8,128.26 234.8,124.09 235.8,119.93 236.8,115.78 237.8,111.66 238.8,107.56 239.8,103.51 240.8,99.49 241.8,95.52 242.8,91.61 243.8,87.76 244.8,83.97 245.8,80.26 246.8,76.63 247.8,73.09 248.8,69.64 249.8,66.29 250.8,63.04 251.8,59.91 252.8,56.89 253.8,54.00 254.8,51.24 255.8,48.61 256.8,46.12 257.8,43.77 258.8,41.57 259.8,39.53 260.8,37.64 261.8,35.91 262.8,34.34 263.8,32.95 264.8,31.72 265.8,30.67 266.8,29.79 267.8,29.08 268.8,28.56 269.8,28.21 270.8,28.04 271.8,28.06 272.8,28.25 273.8,28.62 274.8,29.17 275.8,29.90 276.8,30.81 277.8,31.89 278.8,33.14 279.8,34.56 280.8,36.15 281.8,37.90 282.8,39.81 283.8,41.88 284.8,44.10 285.8,46.47 286.8,48.98 287.8,51.63 288.8,54.41 289.8,57.32 290.8,60.36 291.8,63.51 292.8,66.77 293.8,70.13 294.8,73.60 295.8,77.15 296.8,80.79 297.8,84.52 298.8,88.31 299.8,92.17 300.8,96.09 301.8,100.07 302.8,104.09 303.8,108.16 304.8,112.25 305.8,116.38 306.8,120.53 307.8,124.69 308.8,128.87 309.8,133.04 310.8,137.22 311.8,141.39 312.8,145.54 313.8,149.68 314.8,153.80 315.8,157.88 316.8,161.94 317.8,165.95 318.8,169.93 319.8,173.86 320.8,177.74 321.8,181.57 322.8,185.34 323.8,189.05 324.8,192.70 325.8,196.28 326.8,199.80 327.8,203.25 328.8,206.63 329.8,209.93 330.8,213.16 331.8,216.31 332.8,219.38 333.8,222.38 334.8,225.29 335.8,228.13 336.8,230.89 337.8,233.56 338.8,236.16 339.8,238.68 340.8,241.11 341.8,243.47 342.8,245.75 343.8,247.95 344.8,250.07 345.8,252.11 346.8,254.08 347.8,255.98 348.8,257.80 349.8,259.55 350.8,261.23 351.8,262.85 352.8,264.39 353.8,265.87 354.8,267.28 355.8,268.64 356.8,269.93 357.8,271.16 358.8,272.34 359.8,273.46 360.8,274.52 361.8,275.54 362.8,276.50 363.8,277.41 364.8,278.28 365.8,279.10 366.8,279.88 367.8,280.62 368.8,281.32 369.8,281.98 370.8,282.60 371.8,283.19 372.8,283.75 373.8,284.27 374.8,284.76 375.8,285.22 376.8,285.66 377.8,286.07 378.8,286.45 379.8,286.81 380.8,287.15 381.8,287.46 382.8,287.76 383.8,288.03 384.8,288.29 385.8,288.53 386.8,288.76 387.8,288.97 388.8,289.16 389.8,289.34 390.8,289.51 391.8,289.67 392.8,289.81 393.8,289.95 394.8,290.07 395.8,290.19 396.8,290.30 397.8,290.40 398.8,290.49 399.8,290.57 400.8,290.65 401.8,290.72 402.8,290.79 403.8,290.85 404.8,290.91 405.8,290.96 406.8,291.01 407.8,291.05 408.8,291.09 409.8,291.13 410.8,291.16 411.8,291.19 412.8,291.22 413.8,291.25 414.8,291.27 415.8,291.29 416.8,291.31 417.8,291.33 418.8,291.35 419.8,291.36 420.8,291.37 421.8,291.39 422.8,291.40 423.8,291.41 424.8,291.42 425.8,291.43 426.8,291.43 427.8,291.44 428.8,291.45 429.8,291.45 430.8,291.46 431.8,291.46 432.8,291.46 433.8,291.47 434.8,291.47 435.8,291.47 436.8,291.48 437.8,291.48 438.8,291.48 439.8,291.48 440.8,291.49 441.8,291.49 442.8,291.49 443.8,291.49 444.8,291.49 445.8,291.49 446.8,291.49 447.8,291.49 448.8,291.49 449.8,291.50 450.8,291.50 451.8,291.50 452.8,291.50 453.8,291.50 454.8,291.50 455.8,291.50 456.8,291.50 457.8,291.50 458.8,291.50 459.8,291.50 460.8,291.50 461.8,291.50 462.8,291.50 463.8,291.50 464.8,291.50 465.8,291.50 466.8,291.50 467.8,291.50 468.8,291.50 469.8,291.50 470.8,291.50 471.8,291.50 472.8,291.50 473.8,291.50 474.8,291.50 475.8,291.50 476.8,291.50 477.8,291.50 478.8,291.50 479.8,291.50 480.8,291.50 481.8,291.50 482.8,291.50 483.8,291.50 484.8,291.50 485.8,291.50 486.8,291.50 487.8,291.50 488.8,291.50 489.8,291.50 490.8,291.50 491.8,291.50 492.8,291.50 493.8,291.50 494.8,291.50 495.8,291.50 496.8,291.50 497.8,291.50 498.8,291.50 499.8,291.50 500.8,291.50 501.8,291.50 502.8,291.50 503.8,291.50 504.8,291.50 505.8,291.50 506.8,291.50 507.8,291.50 508.8,291.50 509.8,291.50 510.8,291.50 511.8,291.50 512.8,291.50 513.8,291.50 514.8,291.50 515.8,291.50 516.8,291.50 517.8,291.50 518.8,291.50 519.8,291.50 520.8,291.50 521.8,291.50 522.8,291.50 523.8,291.50 524.8,291.50 525.8,291.50 526.8,291.50 527.8,291.50 528.8,291.50 529.8,291.50 530.8,291.50 531.8,291.50 532.8,291.50 533.8,291.50 534.8,291.50 535.8,291.50 536.8,291.50 537.8,291.50 538.8,291.50 539.8,291.50 540.8,291.50 541.8,291.50 542.8,291.50 543.8,291.50 544.8,291.50 545.8,291.50 546.8,291.50 547.8,291.50 548.8,291.50 549.8,291.50 550.8,291.50 551.8,291.50 552.8,291.50 553.8,291.50 554.8,291.50 555.8,291.50 556.8,291.50 557.8,291.50 558.8,291.50 559.8,291.50 560.8,291.50 561.8,291.50 562.8,291.50 563.8,291.50 564.8,291.50 565.8,291.50 566.8,291.50 567.8,291.50 568.8,291.50 569.8,291.50 570.8,291.50 571.8,291.50 572.8,291.50 573.8,291.50 574.8,291.50 575.8,291.50 576.8,291.50 577.8,291.50 578.8,291.50 579.8,291.50 580.8,291.50 581.8,291.50 582.8,291.50 583.8,291.50 584.8,291.50 585.8,291.50 586.8,291.50 587.8,291.50 588.8,291.50 589.8,291.50 590.8,291.50 591.8,291.50 592.8,291.50 593.8,291.50 594.8,291.50 595.8,291.50 596.8,291.50 597.8,291.50 598.8,291.50 599.8,291.50 600.8,291.50 601.8,291.50 602.8,291.50 603.8,291.50 604.8,291.50 605.8,291.50 606.8,291.50 607.8,291.50 608.8,291.50 609.8,291.50 610.8,291.50 611.8,291.50 612.8,291.50 613.8,291.50 614.8,291.50 615.8,291.50 616.8,291.50 617.8,291.50 618.8,291.50 619.8,291.50 620.8,291.50 621.8,291.50 622.8,291.50 623.8,291.50 624.8,291.50 625.8,291.50 626.8,291.50 627.8,291.50 628.8,291.50 629.8,291.50 630.8,291.50 631.8,291.50 632.8,291.50 633.8,291.50 634.8,291.50 635.8,291.50 636.8,291.50 637.8,291.50 638.8,291.50 639.8,291.50 640.8,291.50 641.8,291.50 642.8,291.50 643.8,291.50 644.8,291.50 645.8,291.50 646.8,291.50 647.8,291.50 648.8,291.50 649.8,291.50 650.8,291.50 651.8,291.50 652.8,291.50 653.8,291.50 654.8,291.50 655.8,291.50 656.8,291.50 657.8,291.50 658.8,291.50 659.8,291.50 660.8,291.50 661.8,291.50 662.8,291.50 663.8,291.50 664.8,291.50 665.8,291.50 666.8,291.50 667.8,291.50 668.8,291.50 669.8,291.50 670.8,291.50 671.8,291.50 672.8,291.50 673.8,291.50 674.8,291.50 675.8,291.50 676.8,291.50 677.8,291.50 678.8,291.50 679.8,291.50 680.8,291.50 681.8,291.50 682.8,291.50" fill="none" stroke="#1E7B45" stroke-width="2.1" stroke-linecap="round" stroke-dasharray="1.2 2.9"/>
<polyline clip-path="url(#pc)" points="54.8,291.50 55.8,291.50 56.8,291.50 57.8,291.50 58.8,291.50 59.8,291.50 60.8,291.50 61.8,291.50 62.8,291.50 63.8,291.50 64.8,291.50 65.8,291.50 66.8,291.50 67.8,291.49 68.8,291.49 69.8,291.49 70.8,291.49 71.8,291.49 72.8,291.49 73.8,291.49 74.8,291.49 75.8,291.49 76.8,291.49 77.8,291.49 78.8,291.49 79.8,291.49 80.8,291.48 81.8,291.48 82.8,291.48 83.8,291.48 84.8,291.48 85.8,291.47 86.8,291.47 87.8,291.47 88.8,291.47 89.8,291.46 90.8,291.46 91.8,291.46 92.8,291.46 93.8,291.45 94.8,291.45 95.8,291.44 96.8,291.44 97.8,291.43 98.8,291.43 99.8,291.42 100.8,291.42 101.8,291.41 102.8,291.40 103.8,291.39 104.8,291.38 105.8,291.38 106.8,291.37 107.8,291.36 108.8,291.34 109.8,291.33 110.8,291.32 111.8,291.31 112.8,291.29 113.8,291.28 114.8,291.26 115.8,291.24 116.8,291.22 117.8,291.20 118.8,291.18 119.8,291.16 120.8,291.14 121.8,291.11 122.8,291.09 123.8,291.06 124.8,291.03 125.8,290.99 126.8,290.96 127.8,290.92 128.8,290.89 129.8,290.84 130.8,290.80 131.8,290.76 132.8,290.71 133.8,290.66 134.8,290.60 135.8,290.55 136.8,290.49 137.8,290.43 138.8,290.36 139.8,290.29 140.8,290.22 141.8,290.14 142.8,290.06 143.8,289.98 144.8,289.89 145.8,289.79 146.8,289.70 147.8,289.59 148.8,289.49 149.8,289.37 150.8,289.26 151.8,289.13 152.8,289.01 153.8,288.87 154.8,288.73 155.8,288.58 156.8,288.43 157.8,288.27 158.8,288.11 159.8,287.94 160.8,287.76 161.8,287.57 162.8,287.38 163.8,287.18 164.8,286.97 165.8,286.75 166.8,286.53 167.8,286.29 168.8,286.05 169.8,285.80 170.8,285.55 171.8,285.28 172.8,285.00 173.8,284.72 174.8,284.43 175.8,284.12 176.8,283.81 177.8,283.49 178.8,283.16 179.8,282.82 180.8,282.47 181.8,282.11 182.8,281.74 183.8,281.36 184.8,280.97 185.8,280.57 186.8,280.17 187.8,279.75 188.8,279.32 189.8,278.89 190.8,278.44 191.8,277.99 192.8,277.52 193.8,277.05 194.8,276.57 195.8,276.07 196.8,275.57 197.8,275.07 198.8,274.55 199.8,274.03 200.8,273.50 201.8,272.96 202.8,272.41 203.8,271.86 204.8,271.30 205.8,270.74 206.8,270.17 207.8,269.59 208.8,269.01 209.8,268.43 210.8,267.84 211.8,267.24 212.8,266.65 213.8,266.05 214.8,265.45 215.8,264.85 216.8,264.25 217.8,263.65 218.8,263.05 219.8,262.45 220.8,261.85 221.8,261.25 222.8,260.66 223.8,260.07 224.8,259.48 225.8,258.90 226.8,258.32 227.8,257.75 228.8,257.18 229.8,256.63 230.8,256.08 231.8,255.54 232.8,255.01 233.8,254.48 234.8,253.97 235.8,253.47 236.8,252.98 237.8,252.51 238.8,252.04 239.8,251.59 240.8,251.16 241.8,250.74 242.8,250.33 243.8,249.94 244.8,249.57 245.8,249.21 246.8,248.87 247.8,248.55 248.8,248.24 249.8,247.96 250.8,247.69 251.8,247.45 252.8,247.22 253.8,247.01 254.8,246.83 255.8,246.66 256.8,246.52 257.8,246.39 258.8,246.29 259.8,246.21 260.8,246.15 261.8,246.11 262.8,246.10 263.8,246.10 264.8,246.13 265.8,246.18 266.8,246.25 267.8,246.34 268.8,246.45 269.8,246.59 270.8,246.74 271.8,246.92 272.8,247.11 273.8,247.33 274.8,247.57 275.8,247.82 276.8,248.10 277.8,248.39 278.8,248.70 279.8,249.03 280.8,249.38 281.8,249.75 282.8,250.13 283.8,250.53 284.8,250.94 285.8,251.37 286.8,251.81 287.8,252.27 288.8,252.74 289.8,253.22 290.8,253.72 291.8,254.22 292.8,254.74 293.8,255.27 294.8,255.80 295.8,256.35 296.8,256.90 297.8,257.46 298.8,258.03 299.8,258.61 300.8,259.18 301.8,259.77 302.8,260.36 303.8,260.95 304.8,261.55 305.8,262.14 306.8,262.74 307.8,263.35 308.8,263.95 309.8,264.55 310.8,265.15 311.8,265.75 312.8,266.35 313.8,266.94 314.8,267.54 315.8,268.13 316.8,268.71 317.8,269.30 318.8,269.88 319.8,270.45 320.8,271.02 321.8,271.58 322.8,272.13 323.8,272.68 324.8,273.22 325.8,273.76 326.8,274.29 327.8,274.81 328.8,275.32 329.8,275.82 330.8,276.32 331.8,276.80 332.8,277.28 333.8,277.75 334.8,278.21 335.8,278.66 336.8,279.10 337.8,279.53 338.8,279.96 339.8,280.37 340.8,280.77 341.8,281.17 342.8,281.55 343.8,281.92 344.8,282.29 345.8,282.64 346.8,282.99 347.8,283.32 348.8,283.65 349.8,283.97 350.8,284.27 351.8,284.57 352.8,284.86 353.8,285.14 354.8,285.41 355.8,285.67 356.8,285.93 357.8,286.17 358.8,286.41 359.8,286.64 360.8,286.86 361.8,287.07 362.8,287.28 363.8,287.47 364.8,287.66 365.8,287.85 366.8,288.02 367.8,288.19 368.8,288.35 369.8,288.51 370.8,288.66 371.8,288.80 372.8,288.94 373.8,289.07 374.8,289.20 375.8,289.32 376.8,289.43 377.8,289.54 378.8,289.65 379.8,289.75 380.8,289.84 381.8,289.93 382.8,290.02 383.8,290.10 384.8,290.18 385.8,290.25 386.8,290.33 387.8,290.39 388.8,290.46 389.8,290.52 390.8,290.58 391.8,290.63 392.8,290.68 393.8,290.73 394.8,290.78 395.8,290.82 396.8,290.87 397.8,290.90 398.8,290.94 399.8,290.98 400.8,291.01 401.8,291.04 402.8,291.07 403.8,291.10 404.8,291.12 405.8,291.15 406.8,291.17 407.8,291.19 408.8,291.21 409.8,291.23 410.8,291.25 411.8,291.27 412.8,291.28 413.8,291.30 414.8,291.31 415.8,291.33 416.8,291.34 417.8,291.35 418.8,291.36 419.8,291.37 420.8,291.38 421.8,291.39 422.8,291.40 423.8,291.40 424.8,291.41 425.8,291.42 426.8,291.42 427.8,291.43 428.8,291.44 429.8,291.44 430.8,291.45 431.8,291.45 432.8,291.45 433.8,291.46 434.8,291.46 435.8,291.46 436.8,291.47 437.8,291.47 438.8,291.47 439.8,291.47 440.8,291.48 441.8,291.48 442.8,291.48 443.8,291.48 444.8,291.48 445.8,291.48 446.8,291.49 447.8,291.49 448.8,291.49 449.8,291.49 450.8,291.49 451.8,291.49 452.8,291.49 453.8,291.49 454.8,291.49 455.8,291.49 456.8,291.49 457.8,291.49 458.8,291.50 459.8,291.50 460.8,291.50 461.8,291.50 462.8,291.50 463.8,291.50 464.8,291.50 465.8,291.50 466.8,291.50 467.8,291.50 468.8,291.50 469.8,291.50 470.8,291.50 471.8,291.50 472.8,291.50 473.8,291.50 474.8,291.50 475.8,291.50 476.8,291.50 477.8,291.50 478.8,291.50 479.8,291.50 480.8,291.50 481.8,291.50 482.8,291.50 483.8,291.50 484.8,291.50 485.8,291.50 486.8,291.50 487.8,291.50 488.8,291.50 489.8,291.50 490.8,291.50 491.8,291.50 492.8,291.50 493.8,291.50 494.8,291.50 495.8,291.50 496.8,291.50 497.8,291.50 498.8,291.50 499.8,291.50 500.8,291.50 501.8,291.50 502.8,291.50 503.8,291.50 504.8,291.50 505.8,291.50 506.8,291.50 507.8,291.50 508.8,291.50 509.8,291.50 510.8,291.50 511.8,291.50 512.8,291.50 513.8,291.50 514.8,291.50 515.8,291.50 516.8,291.50 517.8,291.50 518.8,291.50 519.8,291.50 520.8,291.50 521.8,291.50 522.8,291.50 523.8,291.50 524.8,291.50 525.8,291.50 526.8,291.50 527.8,291.50 528.8,291.50 529.8,291.50 530.8,291.50 531.8,291.50 532.8,291.50 533.8,291.50 534.8,291.50 535.8,291.50 536.8,291.50 537.8,291.50 538.8,291.50 539.8,291.50 540.8,291.50 541.8,291.50 542.8,291.50 543.8,291.50 544.8,291.50 545.8,291.50 546.8,291.50 547.8,291.50 548.8,291.50 549.8,291.50 550.8,291.50 551.8,291.50 552.8,291.50 553.8,291.50 554.8,291.50 555.8,291.50 556.8,291.50 557.8,291.50 558.8,291.50 559.8,291.50 560.8,291.50 561.8,291.50 562.8,291.50 563.8,291.50 564.8,291.50 565.8,291.50 566.8,291.50 567.8,291.50 568.8,291.50 569.8,291.50 570.8,291.50 571.8,291.50 572.8,291.50 573.8,291.50 574.8,291.50 575.8,291.50 576.8,291.50 577.8,291.50 578.8,291.50 579.8,291.50 580.8,291.50 581.8,291.50 582.8,291.50 583.8,291.50 584.8,291.50 585.8,291.50 586.8,291.50 587.8,291.50 588.8,291.50 589.8,291.50 590.8,291.50 591.8,291.50 592.8,291.50 593.8,291.50 594.8,291.50 595.8,291.50 596.8,291.50 597.8,291.50 598.8,291.50 599.8,291.50 600.8,291.50 601.8,291.50 602.8,291.50 603.8,291.50 604.8,291.50 605.8,291.50 606.8,291.50 607.8,291.50 608.8,291.50 609.8,291.50 610.8,291.50 611.8,291.50 612.8,291.50 613.8,291.50 614.8,291.50 615.8,291.50 616.8,291.50 617.8,291.50 618.8,291.50 619.8,291.50 620.8,291.50 621.8,291.50 622.8,291.50 623.8,291.50 624.8,291.50 625.8,291.50 626.8,291.50 627.8,291.50 628.8,291.50 629.8,291.50 630.8,291.50 631.8,291.50 632.8,291.50 633.8,291.50 634.8,291.50 635.8,291.50 636.8,291.50 637.8,291.50 638.8,291.50 639.8,291.50 640.8,291.50 641.8,291.50 642.8,291.50 643.8,291.50 644.8,291.50 645.8,291.50 646.8,291.50 647.8,291.50 648.8,291.50 649.8,291.50 650.8,291.50 651.8,291.50 652.8,291.50 653.8,291.50 654.8,291.50 655.8,291.50 656.8,291.50 657.8,291.50 658.8,291.50 659.8,291.50 660.8,291.50 661.8,291.50 662.8,291.50 663.8,291.50 664.8,291.50 665.8,291.50 666.8,291.50 667.8,291.50 668.8,291.50 669.8,291.50 670.8,291.50 671.8,291.50 672.8,291.50 673.8,291.50 674.8,291.50 675.8,291.50 676.8,291.50 677.8,291.50 678.8,291.50 679.8,291.50 680.8,291.50 681.8,291.50 682.8,291.50" fill="none" stroke="#3C3C70" stroke-width="2.1" stroke-linecap="round" stroke-dasharray="1.2 2.9"/>
<polyline clip-path="url(#pc)" points="54.8,291.47 55.8,291.47 56.8,291.47 57.8,291.47 58.8,291.47 59.8,291.46 60.8,291.46 61.8,291.46 62.8,291.45 63.8,291.45 64.8,291.45 65.8,291.45 66.8,291.44 67.8,291.44 68.8,291.43 69.8,291.43 70.8,291.42 71.8,291.42 72.8,291.41 73.8,291.41 74.8,291.40 75.8,291.40 76.8,291.39 77.8,291.38 78.8,291.37 79.8,291.37 80.8,291.36 81.8,291.35 82.8,291.34 83.8,291.33 84.8,291.32 85.8,291.31 86.8,291.30 87.8,291.28 88.8,291.27 89.8,291.26 90.8,291.24 91.8,291.23 92.8,291.21 93.8,291.20 94.8,291.18 95.8,291.16 96.8,291.14 97.8,291.12 98.8,291.10 99.8,291.08 100.8,291.05 101.8,291.03 102.8,291.00 103.8,290.98 104.8,290.95 105.8,290.92 106.8,290.89 107.8,290.85 108.8,290.82 109.8,290.78 110.8,290.75 111.8,290.71 112.8,290.67 113.8,290.63 114.8,290.58 115.8,290.54 116.8,290.49 117.8,290.44 118.8,290.38 119.8,290.33 120.8,290.27 121.8,290.21 122.8,290.15 123.8,290.09 124.8,290.02 125.8,289.95 126.8,289.88 127.8,289.81 128.8,289.73 129.8,289.65 130.8,289.57 131.8,289.48 132.8,289.39 133.8,289.30 134.8,289.20 135.8,289.10 136.8,289.00 137.8,288.89 138.8,288.78 139.8,288.67 140.8,288.55 141.8,288.43 142.8,288.31 143.8,288.18 144.8,288.04 145.8,287.91 146.8,287.77 147.8,287.62 148.8,287.47 149.8,287.32 150.8,287.16 151.8,286.99 152.8,286.83 153.8,286.65 154.8,286.48 155.8,286.29 156.8,286.11 157.8,285.92 158.8,285.72 159.8,285.52 160.8,285.31 161.8,285.10 162.8,284.88 163.8,284.66 164.8,284.44 165.8,284.21 166.8,283.97 167.8,283.73 168.8,283.48 169.8,283.23 170.8,282.97 171.8,282.71 172.8,282.45 173.8,282.18 174.8,281.90 175.8,281.62 176.8,281.33 177.8,281.04 178.8,280.75 179.8,280.45 180.8,280.14 181.8,279.83 182.8,279.52 183.8,279.20 184.8,278.88 185.8,278.56 186.8,278.23 187.8,277.89 188.8,277.56 189.8,277.22 190.8,276.87 191.8,276.53 192.8,276.18 193.8,275.82 194.8,275.47 195.8,275.11 196.8,274.75 197.8,274.39 198.8,274.02 199.8,273.65 200.8,273.29 201.8,272.92 202.8,272.55 203.8,272.17 204.8,271.80 205.8,271.43 206.8,271.06 207.8,270.68 208.8,270.31 209.8,269.94 210.8,269.57 211.8,269.20 212.8,268.83 213.8,268.46 214.8,268.10 215.8,267.74 216.8,267.38 217.8,267.02 218.8,266.67 219.8,266.32 220.8,265.97 221.8,265.63 222.8,265.29 223.8,264.95 224.8,264.62 225.8,264.30 226.8,263.98 227.8,263.67 228.8,263.36 229.8,263.06 230.8,262.76 231.8,262.47 232.8,262.19 233.8,261.92 234.8,261.65 235.8,261.39 236.8,261.14 237.8,260.90 238.8,260.67 239.8,260.44 240.8,260.22 241.8,260.02 242.8,259.82 243.8,259.63 244.8,259.45 245.8,259.28 246.8,259.12 247.8,258.97 248.8,258.83 249.8,258.71 250.8,258.59 251.8,258.48 252.8,258.39 253.8,258.30 254.8,258.23 255.8,258.16 256.8,258.11 257.8,258.07 258.8,258.04 259.8,258.02 260.8,258.01 261.8,258.02 262.8,258.03 263.8,258.06 264.8,258.10 265.8,258.15 266.8,258.21 267.8,258.28 268.8,258.36 269.8,258.45 270.8,258.56 271.8,258.67 272.8,258.80 273.8,258.93 274.8,259.08 275.8,259.24 276.8,259.40 277.8,259.58 278.8,259.77 279.8,259.96 280.8,260.17 281.8,260.38 282.8,260.60 283.8,260.84 284.8,261.08 285.8,261.33 286.8,261.58 287.8,261.85 288.8,262.12 289.8,262.40 290.8,262.68 291.8,262.98 292.8,263.28 293.8,263.58 294.8,263.90 295.8,264.21 296.8,264.54 297.8,264.86 298.8,265.20 299.8,265.54 300.8,265.88 301.8,266.22 302.8,266.57 303.8,266.93 304.8,267.28 305.8,267.64 306.8,268.00 307.8,268.37 308.8,268.73 309.8,269.10 310.8,269.47 311.8,269.84 312.8,270.21 313.8,270.58 314.8,270.96 315.8,271.33 316.8,271.70 317.8,272.07 318.8,272.45 319.8,272.82 320.8,273.19 321.8,273.56 322.8,273.92 323.8,274.29 324.8,274.65 325.8,275.01 326.8,275.37 327.8,275.73 328.8,276.08 329.8,276.43 330.8,276.78 331.8,277.13 332.8,277.47 333.8,277.81 334.8,278.14 335.8,278.47 336.8,278.80 337.8,279.12 338.8,279.44 339.8,279.75 340.8,280.06 341.8,280.37 342.8,280.67 343.8,280.96 344.8,281.26 345.8,281.54 346.8,281.83 347.8,282.10 348.8,282.37 349.8,282.64 350.8,282.91 351.8,283.16 352.8,283.42 353.8,283.66 354.8,283.91 355.8,284.14 356.8,284.38 357.8,284.60 358.8,284.83 359.8,285.04 360.8,285.26 361.8,285.46 362.8,285.67 363.8,285.86 364.8,286.06 365.8,286.24 366.8,286.43 367.8,286.61 368.8,286.78 369.8,286.95 370.8,287.11 371.8,287.27 372.8,287.43 373.8,287.58 374.8,287.73 375.8,287.87 376.8,288.01 377.8,288.14 378.8,288.27 379.8,288.40 380.8,288.52 381.8,288.64 382.8,288.75 383.8,288.86 384.8,288.97 385.8,289.08 386.8,289.18 387.8,289.27 388.8,289.37 389.8,289.46 390.8,289.54 391.8,289.63 392.8,289.71 393.8,289.79 394.8,289.86 395.8,289.93 396.8,290.00 397.8,290.07 398.8,290.14 399.8,290.20 400.8,290.26 401.8,290.32 402.8,290.37 403.8,290.42 404.8,290.47 405.8,290.52 406.8,290.57 407.8,290.61 408.8,290.66 409.8,290.70 410.8,290.74 411.8,290.78 412.8,290.81 413.8,290.85 414.8,290.88 415.8,290.91 416.8,290.94 417.8,290.97 418.8,291.00 419.8,291.02 420.8,291.05 421.8,291.07 422.8,291.09 423.8,291.12 424.8,291.14 425.8,291.16 426.8,291.17 427.8,291.19 428.8,291.21 429.8,291.22 430.8,291.24 431.8,291.25 432.8,291.27 433.8,291.28 434.8,291.29 435.8,291.31 436.8,291.32 437.8,291.33 438.8,291.34 439.8,291.35 440.8,291.36 441.8,291.36 442.8,291.37 443.8,291.38 444.8,291.39 445.8,291.39 446.8,291.40 447.8,291.41 448.8,291.41 449.8,291.42 450.8,291.42 451.8,291.43 452.8,291.43 453.8,291.44 454.8,291.44 455.8,291.44 456.8,291.45 457.8,291.45 458.8,291.45 459.8,291.46 460.8,291.46 461.8,291.46 462.8,291.46 463.8,291.47 464.8,291.47 465.8,291.47 466.8,291.47 467.8,291.48 468.8,291.48 469.8,291.48 470.8,291.48 471.8,291.48 472.8,291.48 473.8,291.48 474.8,291.48 475.8,291.49 476.8,291.49 477.8,291.49 478.8,291.49 479.8,291.49 480.8,291.49 481.8,291.49 482.8,291.49 483.8,291.49 484.8,291.49 485.8,291.49 486.8,291.49 487.8,291.49 488.8,291.49 489.8,291.50 490.8,291.50 491.8,291.50 492.8,291.50 493.8,291.50 494.8,291.50 495.8,291.50 496.8,291.50 497.8,291.50 498.8,291.50 499.8,291.50 500.8,291.50 501.8,291.50 502.8,291.50 503.8,291.50 504.8,291.50 505.8,291.50 506.8,291.50 507.8,291.50 508.8,291.50 509.8,291.50 510.8,291.50 511.8,291.50 512.8,291.50 513.8,291.50 514.8,291.50 515.8,291.50 516.8,291.50 517.8,291.50 518.8,291.50 519.8,291.50 520.8,291.50 521.8,291.50 522.8,291.50 523.8,291.50 524.8,291.50 525.8,291.50 526.8,291.50 527.8,291.50 528.8,291.50 529.8,291.50 530.8,291.50 531.8,291.50 532.8,291.50 533.8,291.50 534.8,291.50 535.8,291.50 536.8,291.50 537.8,291.50 538.8,291.50 539.8,291.50 540.8,291.50 541.8,291.50 542.8,291.50 543.8,291.50 544.8,291.50 545.8,291.50 546.8,291.50 547.8,291.50 548.8,291.50 549.8,291.50 550.8,291.50 551.8,291.50 552.8,291.50 553.8,291.50 554.8,291.50 555.8,291.50 556.8,291.50 557.8,291.50 558.8,291.50 559.8,291.50 560.8,291.50 561.8,291.50 562.8,291.50 563.8,291.50 564.8,291.50 565.8,291.50 566.8,291.50 567.8,291.50 568.8,291.50 569.8,291.50 570.8,291.50 571.8,291.50 572.8,291.50 573.8,291.50 574.8,291.50 575.8,291.50 576.8,291.50 577.8,291.50 578.8,291.50 579.8,291.50 580.8,291.50 581.8,291.50 582.8,291.50 583.8,291.50 584.8,291.50 585.8,291.50 586.8,291.50 587.8,291.50 588.8,291.50 589.8,291.50 590.8,291.50 591.8,291.50 592.8,291.50 593.8,291.50 594.8,291.50 595.8,291.50 596.8,291.50 597.8,291.50 598.8,291.50 599.8,291.50 600.8,291.50 601.8,291.50 602.8,291.50 603.8,291.50 604.8,291.50 605.8,291.50 606.8,291.50 607.8,291.50 608.8,291.50 609.8,291.50 610.8,291.50 611.8,291.50 612.8,291.50 613.8,291.50 614.8,291.50 615.8,291.50 616.8,291.50 617.8,291.50 618.8,291.50 619.8,291.50 620.8,291.50 621.8,291.50 622.8,291.50 623.8,291.50 624.8,291.50 625.8,291.50 626.8,291.50 627.8,291.50 628.8,291.50 629.8,291.50 630.8,291.50 631.8,291.50 632.8,291.50 633.8,291.50 634.8,291.50 635.8,291.50 636.8,291.50 637.8,291.50 638.8,291.50 639.8,291.50 640.8,291.50 641.8,291.50 642.8,291.50 643.8,291.50 644.8,291.50 645.8,291.50 646.8,291.50 647.8,291.50 648.8,291.50 649.8,291.50 650.8,291.50 651.8,291.50 652.8,291.50 653.8,291.50 654.8,291.50 655.8,291.50 656.8,291.50 657.8,291.50 658.8,291.50 659.8,291.50 660.8,291.50 661.8,291.50 662.8,291.50 663.8,291.50 664.8,291.50 665.8,291.50 666.8,291.50 667.8,291.50 668.8,291.50 669.8,291.50 670.8,291.50 671.8,291.50 672.8,291.50 673.8,291.50 674.8,291.50 675.8,291.50 676.8,291.50 677.8,291.50 678.8,291.50 679.8,291.50 680.8,291.50 681.8,291.50 682.8,291.50" fill="none" stroke="#000000" stroke-width="2.1" stroke-linecap="round" stroke-dasharray="1.2 2.9"/>
<polyline clip-path="url(#pc)" points="54.8,289.88 55.8,289.81 56.8,289.73 57.8,289.66 58.8,289.58 59.8,289.49 60.8,289.41 61.8,289.32 62.8,289.23 63.8,289.13 64.8,289.03 65.8,288.93 66.8,288.82 67.8,288.71 68.8,288.59 69.8,288.48 70.8,288.35 71.8,288.22 72.8,288.09 73.8,287.95 74.8,287.81 75.8,287.67 76.8,287.51 77.8,287.36 78.8,287.19 79.8,287.02 80.8,286.85 81.8,286.67 82.8,286.48 83.8,286.29 84.8,286.09 85.8,285.89 86.8,285.67 87.8,285.45 88.8,285.23 89.8,284.99 90.8,284.75 91.8,284.50 92.8,284.25 93.8,283.98 94.8,283.71 95.8,283.43 96.8,283.14 97.8,282.84 98.8,282.53 99.8,282.21 100.8,281.88 101.8,281.55 102.8,281.20 103.8,280.84 104.8,280.47 105.8,280.10 106.8,279.71 107.8,279.31 108.8,278.90 109.8,278.47 110.8,278.04 111.8,277.59 112.8,277.13 113.8,276.66 114.8,276.18 115.8,275.68 116.8,275.17 117.8,274.65 118.8,274.11 119.8,273.56 120.8,273.00 121.8,272.42 122.8,271.83 123.8,271.22 124.8,270.59 125.8,269.95 126.8,269.30 127.8,268.63 128.8,267.94 129.8,267.24 130.8,266.52 131.8,265.79 132.8,265.03 133.8,264.27 134.8,263.48 135.8,262.67 136.8,261.85 137.8,261.01 138.8,260.15 139.8,259.28 140.8,258.38 141.8,257.47 142.8,256.54 143.8,255.59 144.8,254.61 145.8,253.62 146.8,252.61 147.8,251.58 148.8,250.54 149.8,249.47 150.8,248.38 151.8,247.27 152.8,246.14 153.8,244.99 154.8,243.81 155.8,242.62 156.8,241.41 157.8,240.18 158.8,238.92 159.8,237.65 160.8,236.35 161.8,235.03 162.8,233.69 163.8,232.33 164.8,230.95 165.8,229.55 166.8,228.13 167.8,226.69 168.8,225.22 169.8,223.74 170.8,222.23 171.8,220.70 172.8,219.16 173.8,217.59 174.8,216.00 175.8,214.39 176.8,212.76 177.8,211.11 178.8,209.45 179.8,207.76 180.8,206.05 181.8,204.33 182.8,202.58 183.8,200.82 184.8,199.04 185.8,197.24 186.8,195.42 187.8,193.58 188.8,191.73 189.8,189.86 190.8,187.98 191.8,186.08 192.8,184.16 193.8,182.23 194.8,180.28 195.8,178.32 196.8,176.35 197.8,174.36 198.8,172.36 199.8,170.35 200.8,168.33 201.8,166.29 202.8,164.24 203.8,162.19 204.8,160.12 205.8,158.05 206.8,155.97 207.8,153.87 208.8,151.78 209.8,149.67 210.8,147.56 211.8,145.45 212.8,143.33 213.8,141.21 214.8,139.08 215.8,136.95 216.8,134.82 217.8,132.69 218.8,130.56 219.8,128.43 220.8,126.31 221.8,124.18 222.8,122.06 223.8,119.94 224.8,117.83 225.8,115.72 226.8,113.62 227.8,111.53 228.8,109.44 229.8,107.37 230.8,105.30 231.8,103.25 232.8,101.20 233.8,99.17 234.8,97.15 235.8,95.15 236.8,93.16 237.8,91.19 238.8,89.23 239.8,87.30 240.8,85.38 241.8,83.48 242.8,81.60 243.8,79.74 244.8,77.90 245.8,76.09 246.8,74.30 247.8,72.54 248.8,70.80 249.8,69.09 250.8,67.40 251.8,65.74 252.8,64.11 253.8,62.51 254.8,60.95 255.8,59.41 256.8,57.90 257.8,56.43 258.8,54.99 259.8,53.58 260.8,52.21 261.8,50.88 262.8,49.58 263.8,48.32 264.8,47.09 265.8,45.90 266.8,44.76 267.8,43.65 268.8,42.58 269.8,41.55 270.8,40.56 271.8,39.62 272.8,38.71 273.8,37.85 274.8,37.03 275.8,36.26 276.8,35.53 277.8,34.84 278.8,34.20 279.8,33.60 280.8,33.05 281.8,32.55 282.8,32.08 283.8,31.67 284.8,31.30 285.8,30.98 286.8,30.71 287.8,30.48 288.8,30.30 289.8,30.16 290.8,30.07 291.8,30.03 292.8,30.04 293.8,30.10 294.8,30.20 295.8,30.35 296.8,30.54 297.8,30.78 298.8,31.07 299.8,31.41 300.8,31.79 301.8,32.22 302.8,32.69 303.8,33.21 304.8,33.78 305.8,34.39 306.8,35.05 307.8,35.75 308.8,36.49 309.8,37.28 310.8,38.11 311.8,38.98 312.8,39.90 313.8,40.86 314.8,41.86 315.8,42.90 316.8,43.98 317.8,45.10 318.8,46.26 319.8,47.46 320.8,48.69 321.8,49.97 322.8,51.28 323.8,52.62 324.8,54.00 325.8,55.42 326.8,56.87 327.8,58.35 328.8,59.87 329.8,61.42 330.8,63.00 331.8,64.60 332.8,66.24 333.8,67.91 334.8,69.60 335.8,71.32 336.8,73.07 337.8,74.84 338.8,76.64 339.8,78.46 340.8,80.30 341.8,82.16 342.8,84.05 343.8,85.96 344.8,87.88 345.8,89.82 346.8,91.78 347.8,93.76 348.8,95.75 349.8,97.76 350.8,99.78 351.8,101.82 352.8,103.87 353.8,105.92 354.8,107.99 355.8,110.07 356.8,112.16 357.8,114.26 358.8,116.36 359.8,118.47 360.8,120.58 361.8,122.70 362.8,124.82 363.8,126.95 364.8,129.08 365.8,131.21 366.8,133.34 367.8,135.47 368.8,137.60 369.8,139.72 370.8,141.85 371.8,143.97 372.8,146.09 373.8,148.20 374.8,150.31 375.8,152.41 376.8,154.51 377.8,156.60 378.8,158.68 379.8,160.75 380.8,162.81 381.8,164.86 382.8,166.91 383.8,168.94 384.8,170.96 385.8,172.97 386.8,174.97 387.8,176.95 388.8,178.92 389.8,180.87 390.8,182.82 391.8,184.74 392.8,186.65 393.8,188.55 394.8,190.43 395.8,192.29 396.8,194.14 397.8,195.97 398.8,197.78 399.8,199.58 400.8,201.35 401.8,203.11 402.8,204.85 403.8,206.57 404.8,208.27 405.8,209.95 406.8,211.62 407.8,213.26 408.8,214.88 409.8,216.48 410.8,218.06 411.8,219.63 412.8,221.17 413.8,222.69 414.8,224.19 415.8,225.67 416.8,227.12 417.8,228.56 418.8,229.98 419.8,231.37 420.8,232.75 421.8,234.10 422.8,235.43 423.8,236.74 424.8,238.03 425.8,239.30 426.8,240.55 427.8,241.78 428.8,242.98 429.8,244.17 430.8,245.34 431.8,246.48 432.8,247.60 433.8,248.71 434.8,249.79 435.8,250.85 436.8,251.90 437.8,252.92 438.8,253.93 439.8,254.91 440.8,255.87 441.8,256.82 442.8,257.75 443.8,258.66 444.8,259.54 445.8,260.42 446.8,261.27 447.8,262.10 448.8,262.92 449.8,263.72 450.8,264.50 451.8,265.26 452.8,266.01 453.8,266.74 454.8,267.46 455.8,268.15 456.8,268.83 457.8,269.50 458.8,270.15 459.8,270.78 460.8,271.40 461.8,272.01 462.8,272.60 463.8,273.17 464.8,273.73 465.8,274.28 466.8,274.81 467.8,275.33 468.8,275.84 469.8,276.33 470.8,276.81 471.8,277.27 472.8,277.73 473.8,278.17 474.8,278.60 475.8,279.02 476.8,279.43 477.8,279.83 478.8,280.21 479.8,280.59 480.8,280.95 481.8,281.31 482.8,281.65 483.8,281.98 484.8,282.31 485.8,282.62 486.8,282.93 487.8,283.22 488.8,283.51 489.8,283.79 490.8,284.06 491.8,284.32 492.8,284.58 493.8,284.83 494.8,285.06 495.8,285.30 496.8,285.52 497.8,285.74 498.8,285.95 499.8,286.15 500.8,286.35 501.8,286.54 502.8,286.72 503.8,286.90 504.8,287.08 505.8,287.24 506.8,287.40 507.8,287.56 508.8,287.71 509.8,287.86 510.8,288.00 511.8,288.13 512.8,288.26 513.8,288.39 514.8,288.51 515.8,288.63 516.8,288.74 517.8,288.85 518.8,288.96 519.8,289.06 520.8,289.16 521.8,289.25 522.8,289.35 523.8,289.43 524.8,289.52 525.8,289.60 526.8,289.68 527.8,289.75 528.8,289.83 529.8,289.90 530.8,289.96 531.8,290.03 532.8,290.09 533.8,290.15 534.8,290.21 535.8,290.26 536.8,290.32 537.8,290.37 538.8,290.42 539.8,290.47 540.8,290.51 541.8,290.55 542.8,290.60 543.8,290.64 544.8,290.67 545.8,290.71 546.8,290.75 547.8,290.78 548.8,290.81 549.8,290.84 550.8,290.87 551.8,290.90 552.8,290.93 553.8,290.96 554.8,290.98 555.8,291.01 556.8,291.03 557.8,291.05 558.8,291.07 559.8,291.09 560.8,291.11 561.8,291.13 562.8,291.15 563.8,291.16 564.8,291.18 565.8,291.20 566.8,291.21 567.8,291.22 568.8,291.24 569.8,291.25 570.8,291.26 571.8,291.27 572.8,291.29 573.8,291.30 574.8,291.31 575.8,291.32 576.8,291.32 577.8,291.33 578.8,291.34 579.8,291.35 580.8,291.36 581.8,291.36 582.8,291.37 583.8,291.38 584.8,291.38 585.8,291.39 586.8,291.40 587.8,291.40 588.8,291.41 589.8,291.41 590.8,291.42 591.8,291.42 592.8,291.42 593.8,291.43 594.8,291.43 595.8,291.44 596.8,291.44 597.8,291.44 598.8,291.45 599.8,291.45 600.8,291.45 601.8,291.45 602.8,291.46 603.8,291.46 604.8,291.46 605.8,291.46 606.8,291.47 607.8,291.47 608.8,291.47 609.8,291.47 610.8,291.47 611.8,291.47 612.8,291.48 613.8,291.48 614.8,291.48 615.8,291.48 616.8,291.48 617.8,291.48 618.8,291.48 619.8,291.48 620.8,291.48 621.8,291.49 622.8,291.49 623.8,291.49 624.8,291.49 625.8,291.49 626.8,291.49 627.8,291.49 628.8,291.49 629.8,291.49 630.8,291.49 631.8,291.49 632.8,291.49 633.8,291.49 634.8,291.49 635.8,291.49 636.8,291.49 637.8,291.49 638.8,291.49 639.8,291.50 640.8,291.50 641.8,291.50 642.8,291.50 643.8,291.50 644.8,291.50 645.8,291.50 646.8,291.50 647.8,291.50 648.8,291.50 649.8,291.50 650.8,291.50 651.8,291.50 652.8,291.50 653.8,291.50 654.8,291.50 655.8,291.50 656.8,291.50 657.8,291.50 658.8,291.50 659.8,291.50 660.8,291.50 661.8,291.50 662.8,291.50 663.8,291.50 664.8,291.50 665.8,291.50 666.8,291.50 667.8,291.50 668.8,291.50 669.8,291.50 670.8,291.50 671.8,291.50 672.8,291.50 673.8,291.50 674.8,291.50 675.8,291.50 676.8,291.50 677.8,291.50 678.8,291.50 679.8,291.50 680.8,291.50 681.8,291.50 682.8,291.50" fill="none" stroke="#BA5C14" stroke-width="2.1" stroke-linecap="round" stroke-dasharray="1.2 2.9"/>
<polyline clip-path="url(#pc)" points="54.8,287.57 55.8,287.48 56.8,287.40 57.8,287.31 58.8,287.22 59.8,287.13 60.8,287.03 61.8,286.94 62.8,286.84 63.8,286.74 64.8,286.64 65.8,286.54 66.8,286.44 67.8,286.33 68.8,286.22 69.8,286.11 70.8,286.00 71.8,285.89 72.8,285.78 73.8,285.66 74.8,285.54 75.8,285.42 76.8,285.30 77.8,285.18 78.8,285.06 79.8,284.93 80.8,284.80 81.8,284.67 82.8,284.54 83.8,284.40 84.8,284.26 85.8,284.13 86.8,283.99 87.8,283.84 88.8,283.70 89.8,283.55 90.8,283.40 91.8,283.25 92.8,283.10 93.8,282.95 94.8,282.79 95.8,282.63 96.8,282.47 97.8,282.31 98.8,282.14 99.8,281.97 100.8,281.80 101.8,281.63 102.8,281.46 103.8,281.28 104.8,281.10 105.8,280.92 106.8,280.74 107.8,280.56 108.8,280.37 109.8,280.18 110.8,279.99 111.8,279.80 112.8,279.60 113.8,279.40 114.8,279.20 115.8,279.00 116.8,278.80 117.8,278.59 118.8,278.38 119.8,278.17 120.8,277.96 121.8,277.74 122.8,277.53 123.8,277.31 124.8,277.08 125.8,276.86 126.8,276.63 127.8,276.41 128.8,276.18 129.8,275.94 130.8,275.71 131.8,275.47 132.8,275.23 133.8,274.99 134.8,274.75 135.8,274.51 136.8,274.26 137.8,274.01 138.8,273.76 139.8,273.51 140.8,273.25 141.8,272.99 142.8,272.73 143.8,272.47 144.8,272.21 145.8,271.95 146.8,271.68 147.8,271.41 148.8,271.14 149.8,270.87 150.8,270.59 151.8,270.32 152.8,270.04 153.8,269.76 154.8,269.48 155.8,269.20 156.8,268.92 157.8,268.63 158.8,268.34 159.8,268.05 160.8,267.76 161.8,267.47 162.8,267.18 163.8,266.89 164.8,266.59 165.8,266.29 166.8,266.00 167.8,265.70 168.8,265.40 169.8,265.09 170.8,264.79 171.8,264.49 172.8,264.18 173.8,263.88 174.8,263.57 175.8,263.26 176.8,262.95 177.8,262.64 178.8,262.33 179.8,262.02 180.8,261.71 181.8,261.40 182.8,261.09 183.8,260.77 184.8,260.46 185.8,260.14 186.8,259.83 187.8,259.51 188.8,259.20 189.8,258.88 190.8,258.57 191.8,258.25 192.8,257.94 193.8,257.62 194.8,257.31 195.8,256.99 196.8,256.68 197.8,256.36 198.8,256.05 199.8,255.73 200.8,255.42 201.8,255.11 202.8,254.79 203.8,254.48 204.8,254.17 205.8,253.86 206.8,253.55 207.8,253.24 208.8,252.93 209.8,252.62 210.8,252.32 211.8,252.01 212.8,251.71 213.8,251.41 214.8,251.10 215.8,250.80 216.8,250.51 217.8,250.21 218.8,249.91 219.8,249.62 220.8,249.33 221.8,249.04 222.8,248.75 223.8,248.46 224.8,248.18 225.8,247.89 226.8,247.61 227.8,247.33 228.8,247.06 229.8,246.78 230.8,246.51 231.8,246.24 232.8,245.97 233.8,245.71 234.8,245.45 235.8,245.19 236.8,244.93 237.8,244.68 238.8,244.42 239.8,244.18 240.8,243.93 241.8,243.69 242.8,243.45 243.8,243.21 244.8,242.98 245.8,242.75 246.8,242.52 247.8,242.30 248.8,242.08 249.8,241.86 250.8,241.65 251.8,241.44 252.8,241.23 253.8,241.03 254.8,240.83 255.8,240.64 256.8,240.44 257.8,240.26 258.8,240.07 259.8,239.89 260.8,239.72 261.8,239.55 262.8,239.38 263.8,239.22 264.8,239.06 265.8,238.90 266.8,238.75 267.8,238.60 268.8,238.46 269.8,238.32 270.8,238.19 271.8,238.06 272.8,237.94 273.8,237.82 274.8,237.70 275.8,237.59 276.8,237.48 277.8,237.38 278.8,237.29 279.8,237.19 280.8,237.10 281.8,237.02 282.8,236.94 283.8,236.87 284.8,236.80 285.8,236.74 286.8,236.68 287.8,236.62 288.8,236.57 289.8,236.53 290.8,236.49 291.8,236.45 292.8,236.42 293.8,236.40 294.8,236.38 295.8,236.36 296.8,236.35 297.8,236.35 298.8,236.34 299.8,236.35 300.8,236.36 301.8,236.37 302.8,236.39 303.8,236.41 304.8,236.44 305.8,236.48 306.8,236.51 307.8,236.56 308.8,236.61 309.8,236.66 310.8,236.72 311.8,236.78 312.8,236.85 313.8,236.92 314.8,237.00 315.8,237.08 316.8,237.16 317.8,237.25 318.8,237.35 319.8,237.45 320.8,237.56 321.8,237.66 322.8,237.78 323.8,237.90 324.8,238.02 325.8,238.15 326.8,238.28 327.8,238.42 328.8,238.56 329.8,238.70 330.8,238.85 331.8,239.01 332.8,239.16 333.8,239.33 334.8,239.49 335.8,239.66 336.8,239.84 337.8,240.01 338.8,240.20 339.8,240.38 340.8,240.57 341.8,240.77 342.8,240.96 343.8,241.16 344.8,241.37 345.8,241.58 346.8,241.79 347.8,242.01 348.8,242.22 349.8,242.45 350.8,242.67 351.8,242.90 352.8,243.13 353.8,243.37 354.8,243.61 355.8,243.85 356.8,244.09 357.8,244.34 358.8,244.59 359.8,244.85 360.8,245.10 361.8,245.36 362.8,245.62 363.8,245.89 364.8,246.15 365.8,246.42 366.8,246.69 367.8,246.97 368.8,247.24 369.8,247.52 370.8,247.80 371.8,248.08 372.8,248.37 373.8,248.65 374.8,248.94 375.8,249.23 376.8,249.52 377.8,249.82 378.8,250.11 379.8,250.41 380.8,250.71 381.8,251.01 382.8,251.31 383.8,251.61 384.8,251.91 385.8,252.22 386.8,252.52 387.8,252.83 388.8,253.14 389.8,253.45 390.8,253.76 391.8,254.07 392.8,254.38 393.8,254.69 394.8,255.00 395.8,255.32 396.8,255.63 397.8,255.94 398.8,256.26 399.8,256.57 400.8,256.89 401.8,257.20 402.8,257.52 403.8,257.83 404.8,258.15 405.8,258.47 406.8,258.78 407.8,259.10 408.8,259.41 409.8,259.73 410.8,260.04 411.8,260.36 412.8,260.67 413.8,260.98 414.8,261.30 415.8,261.61 416.8,261.92 417.8,262.23 418.8,262.54 419.8,262.85 420.8,263.16 421.8,263.47 422.8,263.78 423.8,264.08 424.8,264.39 425.8,264.69 426.8,264.99 427.8,265.30 428.8,265.60 429.8,265.90 430.8,266.20 431.8,266.49 432.8,266.79 433.8,267.08 434.8,267.38 435.8,267.67 436.8,267.96 437.8,268.25 438.8,268.54 439.8,268.82 440.8,269.11 441.8,269.39 442.8,269.67 443.8,269.95 444.8,270.23 445.8,270.50 446.8,270.78 447.8,271.05 448.8,271.32 449.8,271.59 450.8,271.86 451.8,272.12 452.8,272.39 453.8,272.65 454.8,272.91 455.8,273.17 456.8,273.42 457.8,273.68 458.8,273.93 459.8,274.18 460.8,274.42 461.8,274.67 462.8,274.91 463.8,275.16 464.8,275.39 465.8,275.63 466.8,275.87 467.8,276.10 468.8,276.33 469.8,276.56 470.8,276.79 471.8,277.01 472.8,277.23 473.8,277.45 474.8,277.67 475.8,277.89 476.8,278.10 477.8,278.31 478.8,278.52 479.8,278.73 480.8,278.93 481.8,279.14 482.8,279.34 483.8,279.54 484.8,279.73 485.8,279.93 486.8,280.12 487.8,280.31 488.8,280.50 489.8,280.68 490.8,280.86 491.8,281.05 492.8,281.22 493.8,281.40 494.8,281.58 495.8,281.75 496.8,281.92 497.8,282.09 498.8,282.25 499.8,282.42 500.8,282.58 501.8,282.74 502.8,282.89 503.8,283.05 504.8,283.20 505.8,283.35 506.8,283.50 507.8,283.65 508.8,283.80 509.8,283.94 510.8,284.08 511.8,284.22 512.8,284.36 513.8,284.49 514.8,284.63 515.8,284.76 516.8,284.89 517.8,285.01 518.8,285.14 519.8,285.26 520.8,285.39 521.8,285.51 522.8,285.62 523.8,285.74 524.8,285.85 525.8,285.97 526.8,286.08 527.8,286.19 528.8,286.30 529.8,286.40 530.8,286.51 531.8,286.61 532.8,286.71 533.8,286.81 534.8,286.90 535.8,287.00 536.8,287.09 537.8,287.19 538.8,287.28 539.8,287.37 540.8,287.46 541.8,287.54 542.8,287.63 543.8,287.71 544.8,287.79 545.8,287.87 546.8,287.95 547.8,288.03 548.8,288.11 549.8,288.18 550.8,288.25 551.8,288.33 552.8,288.40 553.8,288.47 554.8,288.54 555.8,288.60 556.8,288.67 557.8,288.73 558.8,288.80 559.8,288.86 560.8,288.92 561.8,288.98 562.8,289.04 563.8,289.09 564.8,289.15 565.8,289.21 566.8,289.26 567.8,289.31 568.8,289.36 569.8,289.42 570.8,289.47 571.8,289.51 572.8,289.56 573.8,289.61 574.8,289.65 575.8,289.70 576.8,289.74 577.8,289.79 578.8,289.83 579.8,289.87 580.8,289.91 581.8,289.95 582.8,289.99 583.8,290.03 584.8,290.06 585.8,290.10 586.8,290.14 587.8,290.17 588.8,290.20 589.8,290.24 590.8,290.27 591.8,290.30 592.8,290.33 593.8,290.36 594.8,290.39 595.8,290.42 596.8,290.45 597.8,290.48 598.8,290.50 599.8,290.53 600.8,290.56 601.8,290.58 602.8,290.60 603.8,290.63 604.8,290.65 605.8,290.68 606.8,290.70 607.8,290.72 608.8,290.74 609.8,290.76 610.8,290.78 611.8,290.80 612.8,290.82 613.8,290.84 614.8,290.86 615.8,290.88 616.8,290.89 617.8,290.91 618.8,290.93 619.8,290.94 620.8,290.96 621.8,290.97 622.8,290.99 623.8,291.00 624.8,291.02 625.8,291.03 626.8,291.04 627.8,291.06 628.8,291.07 629.8,291.08 630.8,291.10 631.8,291.11 632.8,291.12 633.8,291.13 634.8,291.14 635.8,291.15 636.8,291.16 637.8,291.17 638.8,291.18 639.8,291.19 640.8,291.20 641.8,291.21 642.8,291.22 643.8,291.23 644.8,291.23 645.8,291.24 646.8,291.25 647.8,291.26 648.8,291.27 649.8,291.27 650.8,291.28 651.8,291.29 652.8,291.29 653.8,291.30 654.8,291.31 655.8,291.31 656.8,291.32 657.8,291.32 658.8,291.33 659.8,291.33 660.8,291.34 661.8,291.34 662.8,291.35 663.8,291.35 664.8,291.36 665.8,291.36 666.8,291.37 667.8,291.37 668.8,291.38 669.8,291.38 670.8,291.38 671.8,291.39 672.8,291.39 673.8,291.40 674.8,291.40 675.8,291.40 676.8,291.41 677.8,291.41 678.8,291.41 679.8,291.41 680.8,291.42 681.8,291.42 682.8,291.42" fill="none" stroke="#35639A" stroke-width="2.1" stroke-linecap="round" stroke-dasharray="1.2 2.9"/>
<polyline clip-path="url(#pc)" points="54.8,290.32 55.8,290.28 56.8,290.24 57.8,290.20 58.8,290.16 59.8,290.12 60.8,290.07 61.8,290.03 62.8,289.98 63.8,289.93 64.8,289.88 65.8,289.83 66.8,289.78 67.8,289.72 68.8,289.67 69.8,289.61 70.8,289.55 71.8,289.49 72.8,289.43 73.8,289.37 74.8,289.31 75.8,289.24 76.8,289.17 77.8,289.10 78.8,289.03 79.8,288.96 80.8,288.89 81.8,288.81 82.8,288.73 83.8,288.65 84.8,288.57 85.8,288.49 86.8,288.40 87.8,288.31 88.8,288.22 89.8,288.13 90.8,288.04 91.8,287.94 92.8,287.85 93.8,287.75 94.8,287.64 95.8,287.54 96.8,287.43 97.8,287.32 98.8,287.21 99.8,287.10 100.8,286.98 101.8,286.86 102.8,286.74 103.8,286.62 104.8,286.49 105.8,286.37 106.8,286.24 107.8,286.10 108.8,285.97 109.8,285.83 110.8,285.69 111.8,285.54 112.8,285.40 113.8,285.25 114.8,285.09 115.8,284.94 116.8,284.78 117.8,284.62 118.8,284.46 119.8,284.29 120.8,284.12 121.8,283.95 122.8,283.78 123.8,283.60 124.8,283.42 125.8,283.24 126.8,283.05 127.8,282.86 128.8,282.67 129.8,282.47 130.8,282.27 131.8,282.07 132.8,281.87 133.8,281.66 134.8,281.45 135.8,281.24 136.8,281.02 137.8,280.80 138.8,280.58 139.8,280.35 140.8,280.12 141.8,279.89 142.8,279.65 143.8,279.42 144.8,279.18 145.8,278.93 146.8,278.68 147.8,278.43 148.8,278.18 149.8,277.93 150.8,277.67 151.8,277.41 152.8,277.14 153.8,276.87 154.8,276.60 155.8,276.33 156.8,276.05 157.8,275.77 158.8,275.49 159.8,275.21 160.8,274.92 161.8,274.63 162.8,274.34 163.8,274.04 164.8,273.75 165.8,273.45 166.8,273.14 167.8,272.84 168.8,272.53 169.8,272.22 170.8,271.91 171.8,271.60 172.8,271.28 173.8,270.96 174.8,270.64 175.8,270.32 176.8,270.00 177.8,269.67 178.8,269.34 179.8,269.01 180.8,268.68 181.8,268.35 182.8,268.01 183.8,267.68 184.8,267.34 185.8,267.00 186.8,266.66 187.8,266.32 188.8,265.98 189.8,265.64 190.8,265.29 191.8,264.95 192.8,264.61 193.8,264.26 194.8,263.91 195.8,263.57 196.8,263.22 197.8,262.87 198.8,262.53 199.8,262.18 200.8,261.83 201.8,261.48 202.8,261.14 203.8,260.79 204.8,260.45 205.8,260.10 206.8,259.76 207.8,259.41 208.8,259.07 209.8,258.73 210.8,258.39 211.8,258.05 212.8,257.71 213.8,257.37 214.8,257.04 215.8,256.70 216.8,256.37 217.8,256.04 218.8,255.71 219.8,255.39 220.8,255.06 221.8,254.74 222.8,254.42 223.8,254.11 224.8,253.79 225.8,253.48 226.8,253.18 227.8,252.87 228.8,252.57 229.8,252.27 230.8,251.98 231.8,251.68 232.8,251.40 233.8,251.11 234.8,250.83 235.8,250.55 236.8,250.28 237.8,250.01 238.8,249.75 239.8,249.49 240.8,249.23 241.8,248.98 242.8,248.73 243.8,248.49 244.8,248.25 245.8,248.02 246.8,247.79 247.8,247.57 248.8,247.35 249.8,247.14 250.8,246.94 251.8,246.73 252.8,246.54 253.8,246.35 254.8,246.16 255.8,245.98 256.8,245.81 257.8,245.64 258.8,245.48 259.8,245.33 260.8,245.18 261.8,245.04 262.8,244.90 263.8,244.77 264.8,244.65 265.8,244.53 266.8,244.42 267.8,244.31 268.8,244.21 269.8,244.12 270.8,244.04 271.8,243.96 272.8,243.89 273.8,243.82 274.8,243.76 275.8,243.71 276.8,243.66 277.8,243.63 278.8,243.59 279.8,243.57 280.8,243.55 281.8,243.54 282.8,243.54 283.8,243.54 284.8,243.55 285.8,243.56 286.8,243.59 287.8,243.62 288.8,243.65 289.8,243.70 290.8,243.75 291.8,243.80 292.8,243.87 293.8,243.94 294.8,244.02 295.8,244.10 296.8,244.19 297.8,244.29 298.8,244.39 299.8,244.50 300.8,244.62 301.8,244.74 302.8,244.87 303.8,245.00 304.8,245.14 305.8,245.29 306.8,245.45 307.8,245.60 308.8,245.77 309.8,245.94 310.8,246.12 311.8,246.30 312.8,246.49 313.8,246.69 314.8,246.89 315.8,247.09 316.8,247.30 317.8,247.52 318.8,247.74 319.8,247.96 320.8,248.20 321.8,248.43 322.8,248.67 323.8,248.92 324.8,249.17 325.8,249.42 326.8,249.68 327.8,249.95 328.8,250.21 329.8,250.49 330.8,250.76 331.8,251.04 332.8,251.32 333.8,251.61 334.8,251.90 335.8,252.20 336.8,252.49 337.8,252.80 338.8,253.10 339.8,253.41 340.8,253.72 341.8,254.03 342.8,254.35 343.8,254.66 344.8,254.98 345.8,255.31 346.8,255.63 347.8,255.96 348.8,256.29 349.8,256.62 350.8,256.95 351.8,257.29 352.8,257.63 353.8,257.96 354.8,258.30 355.8,258.64 356.8,258.98 357.8,259.33 358.8,259.67 359.8,260.02 360.8,260.36 361.8,260.71 362.8,261.05 363.8,261.40 364.8,261.75 365.8,262.09 366.8,262.44 367.8,262.79 368.8,263.13 369.8,263.48 370.8,263.83 371.8,264.17 372.8,264.52 373.8,264.87 374.8,265.21 375.8,265.55 376.8,265.90 377.8,266.24 378.8,266.58 379.8,266.92 380.8,267.26 381.8,267.60 382.8,267.93 383.8,268.27 384.8,268.60 385.8,268.93 386.8,269.26 387.8,269.59 388.8,269.91 389.8,270.24 390.8,270.56 391.8,270.88 392.8,271.20 393.8,271.52 394.8,271.83 395.8,272.15 396.8,272.46 397.8,272.76 398.8,273.07 399.8,273.37 400.8,273.67 401.8,273.97 402.8,274.27 403.8,274.56 404.8,274.85 405.8,275.14 406.8,275.42 407.8,275.70 408.8,275.98 409.8,276.26 410.8,276.54 411.8,276.81 412.8,277.07 413.8,277.34 414.8,277.60 415.8,277.86 416.8,278.12 417.8,278.37 418.8,278.62 419.8,278.87 420.8,279.12 421.8,279.36 422.8,279.60 423.8,279.83 424.8,280.06 425.8,280.29 426.8,280.52 427.8,280.74 428.8,280.96 429.8,281.18 430.8,281.40 431.8,281.61 432.8,281.82 433.8,282.02 434.8,282.22 435.8,282.42 436.8,282.62 437.8,282.81 438.8,283.00 439.8,283.19 440.8,283.37 441.8,283.55 442.8,283.73 443.8,283.91 444.8,284.08 445.8,284.25 446.8,284.42 447.8,284.58 448.8,284.74 449.8,284.90 450.8,285.06 451.8,285.21 452.8,285.36 453.8,285.51 454.8,285.65 455.8,285.79 456.8,285.93 457.8,286.07 458.8,286.20 459.8,286.33 460.8,286.46 461.8,286.59 462.8,286.71 463.8,286.83 464.8,286.95 465.8,287.07 466.8,287.18 467.8,287.30 468.8,287.41 469.8,287.51 470.8,287.62 471.8,287.72 472.8,287.82 473.8,287.92 474.8,288.02 475.8,288.11 476.8,288.20 477.8,288.29 478.8,288.38 479.8,288.47 480.8,288.55 481.8,288.63 482.8,288.71 483.8,288.79 484.8,288.87 485.8,288.94 486.8,289.02 487.8,289.09 488.8,289.16 489.8,289.22 490.8,289.29 491.8,289.36 492.8,289.42 493.8,289.48 494.8,289.54 495.8,289.60 496.8,289.66 497.8,289.71 498.8,289.76 499.8,289.82 500.8,289.87 501.8,289.92 502.8,289.97 503.8,290.01 504.8,290.06 505.8,290.11 506.8,290.15 507.8,290.19 508.8,290.23 509.8,290.27 510.8,290.31 511.8,290.35 512.8,290.39 513.8,290.42 514.8,290.46 515.8,290.49 516.8,290.53 517.8,290.56 518.8,290.59 519.8,290.62 520.8,290.65 521.8,290.68 522.8,290.70 523.8,290.73 524.8,290.76 525.8,290.78 526.8,290.81 527.8,290.83 528.8,290.85 529.8,290.88 530.8,290.90 531.8,290.92 532.8,290.94 533.8,290.96 534.8,290.98 535.8,291.00 536.8,291.01 537.8,291.03 538.8,291.05 539.8,291.06 540.8,291.08 541.8,291.09 542.8,291.11 543.8,291.12 544.8,291.14 545.8,291.15 546.8,291.16 547.8,291.18 548.8,291.19 549.8,291.20 550.8,291.21 551.8,291.22 552.8,291.23 553.8,291.24 554.8,291.25 555.8,291.26 556.8,291.27 557.8,291.28 558.8,291.29 559.8,291.30 560.8,291.30 561.8,291.31 562.8,291.32 563.8,291.33 564.8,291.33 565.8,291.34 566.8,291.35 567.8,291.35 568.8,291.36 569.8,291.36 570.8,291.37 571.8,291.37 572.8,291.38 573.8,291.38 574.8,291.39 575.8,291.39 576.8,291.40 577.8,291.40 578.8,291.41 579.8,291.41 580.8,291.41 581.8,291.42 582.8,291.42 583.8,291.42 584.8,291.43 585.8,291.43 586.8,291.43 587.8,291.44 588.8,291.44 589.8,291.44 590.8,291.44 591.8,291.45 592.8,291.45 593.8,291.45 594.8,291.45 595.8,291.46 596.8,291.46 597.8,291.46 598.8,291.46 599.8,291.46 600.8,291.46 601.8,291.47 602.8,291.47 603.8,291.47 604.8,291.47 605.8,291.47 606.8,291.47 607.8,291.47 608.8,291.48 609.8,291.48 610.8,291.48 611.8,291.48 612.8,291.48 613.8,291.48 614.8,291.48 615.8,291.48 616.8,291.48 617.8,291.48 618.8,291.48 619.8,291.49 620.8,291.49 621.8,291.49 622.8,291.49 623.8,291.49 624.8,291.49 625.8,291.49 626.8,291.49 627.8,291.49 628.8,291.49 629.8,291.49 630.8,291.49 631.8,291.49 632.8,291.49 633.8,291.49 634.8,291.49 635.8,291.49 636.8,291.49 637.8,291.49 638.8,291.49 639.8,291.49 640.8,291.49 641.8,291.50 642.8,291.50 643.8,291.50 644.8,291.50 645.8,291.50 646.8,291.50 647.8,291.50 648.8,291.50 649.8,291.50 650.8,291.50 651.8,291.50 652.8,291.50 653.8,291.50 654.8,291.50 655.8,291.50 656.8,291.50 657.8,291.50 658.8,291.50 659.8,291.50 660.8,291.50 661.8,291.50 662.8,291.50 663.8,291.50 664.8,291.50 665.8,291.50 666.8,291.50 667.8,291.50 668.8,291.50 669.8,291.50 670.8,291.50 671.8,291.50 672.8,291.50 673.8,291.50 674.8,291.50 675.8,291.50 676.8,291.50 677.8,291.50 678.8,291.50 679.8,291.50 680.8,291.50 681.8,291.50 682.8,291.50" fill="none" stroke="#8E4A14" stroke-width="2.1" stroke-linecap="round" stroke-dasharray="1.2 2.9"/>
<line x1="48.1" y1="6.4" x2="684.4" y2="6.4" stroke="#000" stroke-width="1.4"/>
<line x1="54.9" y1="5.7" x2="54.9" y2="292.2" stroke="#000" stroke-width="1.6"/>
<line x1="54.1" y1="291.4" x2="684.4" y2="291.4" stroke="#000" stroke-width="1.5"/>
<line x1="683.6" y1="5.7" x2="683.6" y2="292.2" stroke="#000" stroke-width="1.6"/>
<line x1="48.10" y1="291.50" x2="54.80" y2="291.50" stroke="#000" stroke-width="1.3"/>
<line x1="51.50" y1="267.72" x2="54.80" y2="267.72" stroke="#000" stroke-width="1.3"/>
<line x1="48.10" y1="243.94" x2="54.80" y2="243.94" stroke="#000" stroke-width="1.3"/>
<line x1="51.50" y1="220.15" x2="54.80" y2="220.15" stroke="#000" stroke-width="1.3"/>
<line x1="48.10" y1="196.37" x2="54.80" y2="196.37" stroke="#000" stroke-width="1.3"/>
<line x1="51.50" y1="172.59" x2="54.80" y2="172.59" stroke="#000" stroke-width="1.3"/>
<line x1="48.10" y1="148.81" x2="54.80" y2="148.81" stroke="#000" stroke-width="1.3"/>
<line x1="51.50" y1="125.02" x2="54.80" y2="125.02" stroke="#000" stroke-width="1.3"/>
<line x1="48.10" y1="101.24" x2="54.80" y2="101.24" stroke="#000" stroke-width="1.3"/>
<line x1="51.50" y1="77.46" x2="54.80" y2="77.46" stroke="#000" stroke-width="1.3"/>
<line x1="48.10" y1="53.67" x2="54.80" y2="53.67" stroke="#000" stroke-width="1.3"/>
<line x1="51.50" y1="29.89" x2="54.80" y2="29.89" stroke="#000" stroke-width="1.3"/>
<line x1="48.10" y1="6.11" x2="54.80" y2="6.11" stroke="#000" stroke-width="1.3"/>
<line x1="54.80" y1="291.50" x2="54.80" y2="294.80" stroke="#000" stroke-width="1.3"/>
<line x1="99.72" y1="291.50" x2="99.72" y2="298.20" stroke="#000" stroke-width="1.3"/>
<line x1="144.63" y1="291.50" x2="144.63" y2="294.80" stroke="#000" stroke-width="1.3"/>
<line x1="189.55" y1="291.50" x2="189.55" y2="298.20" stroke="#000" stroke-width="1.3"/>
<line x1="234.46" y1="291.50" x2="234.46" y2="294.80" stroke="#000" stroke-width="1.3"/>
<line x1="279.38" y1="291.50" x2="279.38" y2="298.20" stroke="#000" stroke-width="1.3"/>
<line x1="324.29" y1="291.50" x2="324.29" y2="294.80" stroke="#000" stroke-width="1.3"/>
<line x1="369.21" y1="291.50" x2="369.21" y2="298.20" stroke="#000" stroke-width="1.3"/>
<line x1="414.12" y1="291.50" x2="414.12" y2="294.80" stroke="#000" stroke-width="1.3"/>
<line x1="459.04" y1="291.50" x2="459.04" y2="298.20" stroke="#000" stroke-width="1.3"/>
<line x1="503.95" y1="291.50" x2="503.95" y2="294.80" stroke="#000" stroke-width="1.3"/>
<line x1="548.87" y1="291.50" x2="548.87" y2="298.20" stroke="#000" stroke-width="1.3"/>
<line x1="593.78" y1="291.50" x2="593.78" y2="294.80" stroke="#000" stroke-width="1.3"/>
<line x1="638.69" y1="291.50" x2="638.69" y2="298.20" stroke="#000" stroke-width="1.3"/>
<line x1="683.61" y1="291.50" x2="683.61" y2="294.80" stroke="#000" stroke-width="1.3"/>
<text x="43.3" y="296.40" text-anchor="end" class="t">0</text>
<text x="43.3" y="248.84" text-anchor="end" class="t">50</text>
<text x="43.3" y="201.27" text-anchor="end" class="t">100</text>
<text x="43.3" y="153.71" text-anchor="end" class="t">150</text>
<text x="43.3" y="106.14" text-anchor="end" class="t">200</text>
<text x="43.3" y="58.57" text-anchor="end" class="t">250</text>
<text x="43.3" y="11.01" text-anchor="end" class="t">300</text>
<text x="99.72" y="314.5" text-anchor="middle" class="t">-20</text>
<text x="189.55" y="314.5" text-anchor="middle" class="t">-10</text>
<text x="279.38" y="314.5" text-anchor="middle" class="t">0</text>
<text x="369.21" y="314.5" text-anchor="middle" class="t">10</text>
<text x="459.04" y="314.5" text-anchor="middle" class="t">20</text>
<text x="548.87" y="314.5" text-anchor="middle" class="t">30</text>
<text x="638.69" y="314.5" text-anchor="middle" class="t">40</text>
<text x="369.4" y="338.8" text-anchor="middle" class="at">Error (%)</text>
<text transform="translate(13.7,148.7) rotate(-90)" text-anchor="middle" class="at">Frequency</text>
<rect x="579.75" y="14.5" width="93.85" height="203.4" fill="#fff" stroke="#000" stroke-width="1.1"/>
<text x="581.6" y="28.50" class="lt">(NB)</text>
<rect x="582.1" y="33.50" width="30.2" height="15.2" fill="#EE0000"/>
<text x="616.2" y="45.20" class="lt">Train</text>
<rect x="582.1" y="50.30" width="30.2" height="15.2" fill="#346897"/>
<text x="616.2" y="62.00" class="lt">Validation</text>
<rect x="582.1" y="67.10" width="30.2" height="15.2" fill="#FFC010"/>
<text x="616.2" y="78.80" class="lt">Test</text>
<text x="581.6" y="95.70" class="lt">(NBMG)</text>
<rect x="582.1" y="100.70" width="30.2" height="15.2" fill="#3EC373"/>
<text x="616.2" y="112.40" class="lt">Train</text>
<rect x="582.1" y="117.50" width="30.2" height="15.2" fill="#666897"/>
<text x="616.2" y="129.20" class="lt">Validation</text>
<rect x="582.1" y="134.30" width="30.2" height="15.2" fill="#000000"/>
<text x="616.2" y="146.00" class="lt">Test</text>
<text x="581.6" y="162.90" class="lt">(NBHH)</text>
<rect x="582.1" y="167.90" width="30.2" height="15.2" fill="#FF7F00"/>
<text x="616.2" y="179.60" class="lt">Train</text>
<rect x="582.1" y="184.70" width="30.2" height="15.2" fill="#6699CC"/>
<text x="616.2" y="196.40" class="lt">Validation</text>
<rect x="582.1" y="201.50" width="30.2" height="15.2" fill="#C8640A"/>
<text x="616.2" y="213.20" class="lt">Test</text>
</svg>
</body></html>
